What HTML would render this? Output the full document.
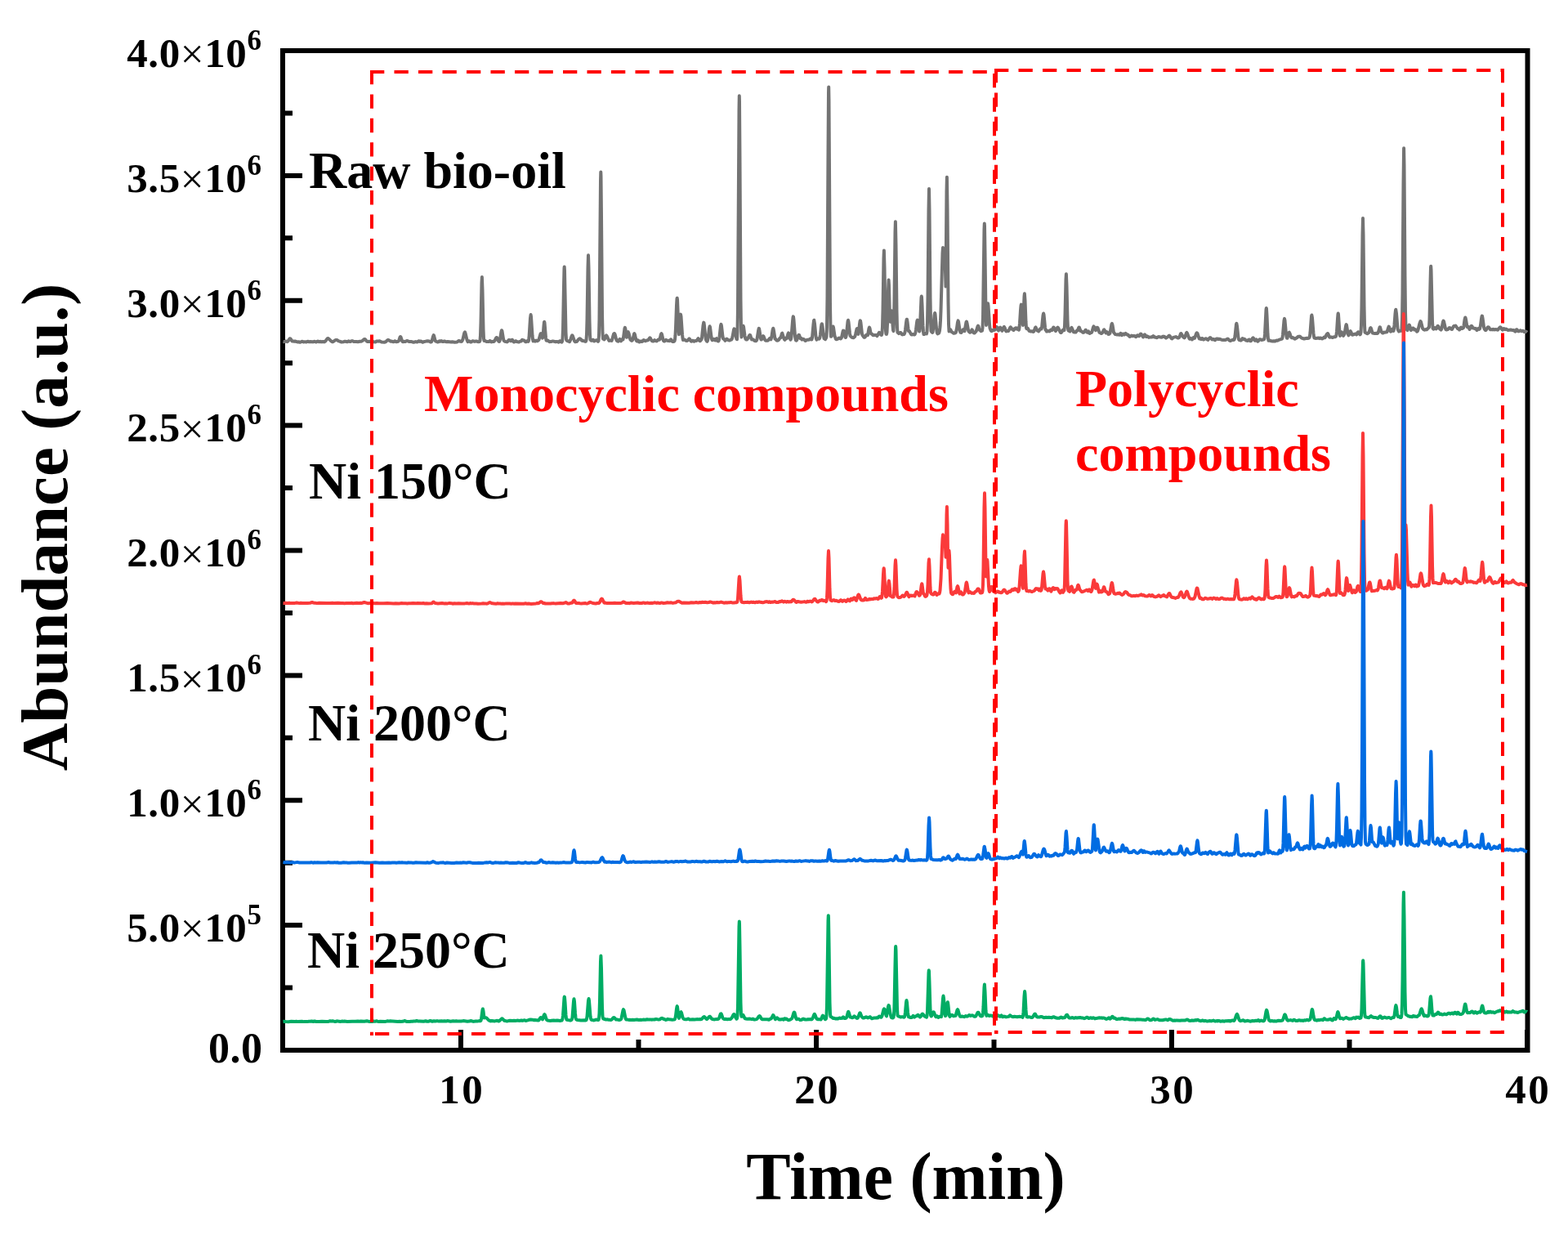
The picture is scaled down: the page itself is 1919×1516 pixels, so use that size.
<!DOCTYPE html>
<html><head><meta charset="utf-8"><style>
html,body{margin:0;padding:0;background:#fff;}
svg{display:block;}
text{font-family:"Liberation Serif","Times New Roman",serif;font-weight:bold;}
</style></head><body>
<svg width="1919" height="1516" viewBox="0 0 1919 1516">
<rect x="0" y="0" width="1919" height="1516" fill="#fff"/>
<rect x="346" y="62" width="1523.5" height="1223" fill="none" stroke="#000" stroke-width="6"/>
<path d="M564.0,1285 V1260 M781.5,1285 V1272 M999.0,1285 V1260 M1216.5,1285 V1272 M1434.0,1285 V1260 M1651.5,1285 V1272 M1869.0,1285 V1260" stroke="#000" stroke-width="6" fill="none"/>
<path d="M346,1285.0 H370 M346,1208.6 H358 M346,1132.1 H370 M346,1055.7 H358 M346,979.2 H370 M346,902.8 H358 M346,826.4 H370 M346,749.9 H358 M346,673.5 H370 M346,597.1 H358 M346,520.6 H370 M346,444.2 H358 M346,367.8 H370 M346,291.3 H358 M346,214.9 H370 M346,138.4 H358 M346,62.0 H370" stroke="#000" stroke-width="6" fill="none"/>
<path d="M346.5,417.9 L348.0,418.2 L349.5,417.6 L350.0,417.6 L351.5,418.2 L352.5,417.4 L354.5,414.4 L355.0,414.2 L355.5,414.5 L357.5,417.4 L358.5,417.4 L359.5,417.7 L361.0,417.5 L364.0,418.4 L365.5,418.2 L367.0,418.8 L367.5,418.7 L369.5,417.7 L370.0,417.7 L371.5,418.4 L372.0,418.4 L373.0,418.2 L375.0,418.4 L376.5,417.7 L377.0,417.8 L378.0,418.3 L380.0,418.1 L382.0,418.2 L383.0,418.4 L384.5,417.8 L385.0,417.8 L387.0,418.5 L389.0,417.4 L390.5,418.3 L392.0,417.8 L393.0,418.4 L395.0,418.0 L397.0,418.4 L397.5,418.1 L398.5,417.2 L400.5,414.4 L401.0,414.0 L401.5,414.0 L402.5,414.6 L405.0,417.2 L406.0,417.9 L407.0,418.3 L408.0,417.9 L410.5,416.2 L411.5,415.9 L413.0,416.3 L414.5,417.4 L415.5,417.6 L418.0,418.5 L420.5,418.3 L421.5,417.8 L422.5,417.7 L425.0,418.3 L426.5,417.3 L428.5,418.1 L430.0,417.4 L431.0,417.1 L432.0,417.4 L433.0,418.0 L436.0,417.9 L438.0,418.2 L440.5,417.7 L442.0,417.8 L443.5,417.0 L445.5,415.2 L446.0,415.0 L446.5,415.0 L447.0,415.3 L449.0,417.7 L450.0,418.1 L451.5,417.8 L454.0,418.0 L455.0,417.4 L455.5,417.3 L457.0,418.2 L459.5,418.4 L461.5,417.4 L462.5,417.4 L463.5,417.7 L464.5,417.3 L465.0,417.4 L467.0,418.5 L470.5,418.7 L472.0,418.3 L474.0,416.3 L475.0,415.9 L476.5,416.6 L478.0,417.7 L479.5,417.6 L481.5,418.3 L483.0,417.3 L483.5,417.3 L484.5,418.1 L485.0,418.2 L487.5,417.7 L488.0,417.0 L488.5,415.7 L489.5,412.7 L490.0,412.0 L490.5,412.5 L492.0,417.0 L492.5,417.9 L493.0,418.3 L494.5,417.8 L496.0,418.1 L498.0,417.0 L498.5,417.0 L500.5,417.9 L503.0,417.9 L506.0,418.7 L507.0,418.7 L508.5,418.1 L510.5,418.5 L512.5,417.3 L513.0,417.4 L514.0,417.9 L515.0,417.6 L515.5,417.6 L517.0,418.7 L517.5,418.8 L519.0,418.0 L520.0,417.9 L523.0,417.3 L525.5,417.6 L527.0,418.6 L527.5,418.6 L528.0,418.3 L528.5,417.4 L530.0,411.7 L530.7,410.1 L531.0,410.4 L532.5,416.2 L533.0,417.5 L534.0,417.7 L535.5,418.5 L536.5,418.3 L538.0,417.2 L539.0,417.7 L540.0,417.1 L542.0,418.1 L542.5,418.1 L543.5,417.4 L544.0,417.5 L546.5,418.3 L548.0,418.0 L552.0,418.5 L553.5,418.2 L556.5,418.7 L559.5,418.4 L561.5,417.0 L562.0,417.0 L563.0,417.7 L564.0,417.9 L565.0,417.8 L565.5,417.3 L566.5,414.9 L568.0,408.4 L568.5,407.0 L569.0,406.4 L569.5,407.5 L571.5,415.9 L572.5,418.1 L574.0,417.2 L576.0,418.6 L576.5,418.6 L578.5,417.2 L581.0,417.9 L582.0,417.5 L583.0,417.5 L585.0,418.2 L587.0,417.9 L587.5,416.5 L588.0,410.1 L588.5,394.8 L589.5,346.4 L589.9,339.0 L590.5,355.1 L591.5,402.9 L592.0,414.1 L592.5,416.9 L594.0,417.1 L595.5,418.1 L596.0,418.1 L598.5,417.9 L599.5,417.0 L600.0,417.1 L601.0,418.3 L601.5,418.4 L603.0,417.8 L604.5,418.0 L605.5,416.9 L607.0,413.7 L607.6,412.9 L608.0,412.9 L608.5,413.6 L610.0,417.1 L610.5,417.8 L611.0,418.0 L611.5,417.1 L612.0,415.3 L613.5,405.6 L614.0,404.2 L614.5,405.2 L616.0,414.5 L616.5,416.4 L617.0,417.2 L618.0,417.9 L620.5,418.4 L621.0,418.2 L622.5,416.1 L623.0,415.9 L623.5,415.9 L625.0,417.1 L625.5,417.3 L626.5,415.7 L627.0,415.8 L628.5,418.2 L629.0,418.5 L631.0,417.2 L631.5,417.3 L632.5,418.0 L635.0,418.6 L636.0,417.9 L637.5,417.6 L639.0,415.8 L639.5,415.8 L640.5,416.6 L641.0,416.4 L641.5,416.5 L643.0,418.1 L643.5,418.3 L644.0,418.2 L645.0,417.3 L645.5,417.2 L646.5,417.9 L647.0,416.7 L647.5,413.1 L649.0,389.5 L649.6,385.1 L650.0,387.3 L651.5,410.3 L652.0,415.0 L652.5,417.4 L653.5,416.5 L654.0,416.5 L655.0,417.6 L656.0,416.7 L656.5,416.6 L657.5,417.3 L659.0,416.3 L659.5,415.6 L661.5,408.5 L662.0,408.0 L662.5,408.7 L663.0,410.0 L664.0,413.6 L664.5,411.9 L665.5,398.8 L666.0,394.2 L666.2,393.8 L666.5,394.8 L668.0,413.5 L668.5,416.5 L669.0,416.8 L670.0,416.4 L670.5,416.6 L672.5,418.2 L673.0,418.2 L674.0,417.9 L675.0,417.9 L676.5,417.4 L680.0,418.3 L681.5,417.9 L683.5,418.7 L684.0,418.4 L685.0,417.2 L685.5,417.3 L686.5,418.3 L687.5,418.6 L688.0,417.8 L688.5,414.0 L689.0,403.1 L690.0,350.3 L690.5,328.5 L690.7,326.4 L691.0,331.7 L692.5,406.3 L693.0,415.3 L693.5,416.4 L694.5,417.2 L695.5,417.5 L697.0,418.2 L698.0,416.3 L699.5,411.5 L700.2,410.3 L700.5,410.4 L701.0,411.3 L703.0,417.1 L703.5,417.9 L704.0,418.2 L705.5,418.1 L706.0,417.9 L708.0,415.2 L709.0,414.4 L709.5,414.3 L710.5,414.8 L712.0,416.7 L712.5,416.9 L713.5,416.8 L716.5,417.9 L717.0,417.8 L717.5,416.0 L718.0,409.2 L718.5,391.5 L719.5,327.2 L720.0,312.3 L720.5,327.7 L721.5,392.1 L722.0,409.5 L722.5,415.6 L723.5,416.7 L724.0,416.8 L725.0,416.4 L725.5,415.7 L726.0,415.8 L727.0,417.4 L727.5,417.4 L728.5,416.8 L730.0,416.2 L730.5,416.3 L732.0,417.9 L732.5,417.0 L733.0,410.6 L733.5,390.0 L735.0,221.5 L735.3,210.6 L735.5,215.7 L736.0,264.8 L737.0,383.5 L737.5,407.7 L738.0,414.6 L739.0,415.0 L739.5,415.4 L740.0,414.8 L741.5,411.0 L742.0,410.3 L743.0,411.6 L744.5,415.2 L745.5,416.9 L746.0,416.8 L747.0,416.4 L748.5,416.9 L749.5,414.4 L751.0,408.9 L751.5,408.1 L752.0,408.0 L752.5,408.8 L753.0,410.4 L754.0,414.6 L754.5,416.1 L755.0,416.9 L755.5,417.3 L756.5,417.7 L757.0,417.4 L758.0,415.3 L758.5,414.8 L759.0,415.4 L759.5,416.7 L760.0,417.3 L761.5,415.1 L762.0,415.1 L762.5,415.4 L763.0,412.9 L764.5,401.8 L764.9,400.9 L765.5,402.9 L766.5,410.8 L767.0,412.7 L768.0,408.2 L768.5,406.6 L768.8,406.2 L769.5,407.8 L771.0,414.1 L771.5,415.5 L772.0,416.2 L773.0,416.9 L773.5,416.8 L774.0,416.2 L774.5,414.9 L776.0,408.7 L776.4,408.1 L777.0,409.3 L778.0,414.3 L778.5,416.0 L779.0,417.0 L779.5,417.4 L780.5,416.3 L781.0,416.4 L782.0,418.2 L782.5,418.5 L783.5,417.6 L784.0,417.5 L785.5,418.0 L786.0,417.9 L787.5,416.1 L788.0,416.0 L789.5,417.1 L790.0,417.2 L791.0,416.6 L792.0,416.6 L793.0,416.4 L795.0,413.6 L795.4,413.4 L796.0,413.9 L797.5,416.8 L798.0,417.2 L799.5,417.5 L801.0,416.1 L801.5,416.3 L802.5,417.1 L803.5,417.4 L804.0,417.3 L805.5,415.6 L806.0,415.4 L807.0,415.7 L807.5,414.9 L809.0,408.8 L809.5,408.1 L810.0,409.0 L811.5,415.7 L812.0,416.8 L812.5,417.4 L813.0,417.6 L813.5,417.4 L815.0,415.8 L815.5,416.0 L816.5,416.8 L817.0,416.9 L818.5,416.7 L819.5,417.2 L820.0,416.8 L821.0,415.3 L821.5,415.6 L822.5,417.5 L823.0,417.9 L824.5,418.0 L825.0,417.8 L825.5,417.2 L826.0,415.2 L826.5,410.3 L827.0,401.1 L828.0,373.8 L828.5,365.3 L828.7,364.7 L829.0,366.5 L830.5,403.3 L831.0,409.2 L832.5,387.4 L833.0,384.6 L833.5,387.1 L835.0,409.2 L835.5,413.8 L836.0,416.0 L836.5,415.9 L837.0,415.5 L837.5,415.4 L839.5,416.7 L841.0,417.0 L842.0,416.2 L843.0,414.8 L843.5,414.4 L844.0,414.7 L845.5,417.4 L846.0,417.8 L847.5,416.7 L848.0,416.7 L849.5,417.8 L851.0,416.9 L852.5,416.9 L853.0,416.6 L854.0,414.7 L854.5,414.1 L855.0,414.5 L856.0,416.7 L856.5,417.3 L857.0,417.1 L858.5,415.3 L859.0,413.3 L860.5,398.4 L861.2,394.6 L861.5,395.0 L862.0,398.6 L863.5,413.4 L864.0,415.8 L865.0,417.5 L865.5,417.8 L866.0,416.7 L866.5,414.4 L868.0,401.7 L868.6,399.3 L869.0,400.1 L870.5,411.9 L871.0,414.6 L871.5,416.1 L872.0,416.3 L873.0,415.0 L873.5,414.8 L874.0,415.0 L875.5,416.5 L876.5,414.5 L877.0,414.2 L878.5,417.3 L879.0,417.5 L879.5,417.0 L880.0,415.5 L880.5,412.5 L882.0,398.4 L882.5,396.9 L883.0,398.7 L884.5,411.9 L885.0,414.4 L885.5,414.3 L886.0,414.7 L887.5,416.8 L888.0,416.4 L889.0,414.9 L889.5,414.6 L890.0,414.9 L891.5,416.2 L893.0,416.5 L894.0,415.9 L895.0,415.6 L895.5,415.0 L896.0,414.0 L896.5,412.0 L898.0,403.5 L898.5,402.3 L899.0,402.9 L899.5,404.8 L900.5,410.6 L901.5,415.0 L902.0,415.2 L902.5,406.1 L903.0,376.8 L904.5,133.7 L904.8,117.3 L905.0,124.6 L905.5,195.6 L906.5,366.4 L907.0,401.4 L907.5,412.6 L909.0,401.2 L909.6,398.8 L910.0,399.6 L911.5,410.8 L912.0,413.3 L912.5,414.8 L913.5,415.5 L914.0,415.6 L914.5,415.3 L915.5,413.7 L917.0,410.6 L917.7,409.8 L918.0,410.0 L918.5,411.0 L919.5,414.3 L920.0,415.4 L921.0,415.1 L921.5,415.3 L923.5,417.1 L925.0,417.2 L925.5,417.1 L926.0,416.4 L926.5,414.9 L928.0,405.2 L928.5,402.5 L928.8,401.8 L929.0,402.0 L929.5,404.2 L930.5,411.3 L931.0,414.1 L931.5,415.5 L932.0,415.5 L933.5,411.9 L934.0,411.2 L934.5,411.5 L936.0,415.4 L936.5,416.3 L937.0,416.7 L939.0,416.8 L940.0,416.6 L942.0,414.1 L942.5,414.2 L943.5,415.3 L944.5,411.3 L945.5,404.3 L946.2,401.8 L946.5,402.2 L947.0,404.8 L948.5,414.6 L949.0,414.5 L950.5,416.5 L951.0,416.7 L952.0,416.6 L953.0,415.9 L954.5,413.6 L955.0,413.1 L955.5,413.2 L957.0,407.8 L957.3,407.6 L959.0,413.2 L960.0,415.3 L960.5,415.8 L961.0,415.3 L962.0,413.6 L963.0,414.0 L964.5,408.3 L965.0,407.4 L965.5,408.2 L966.5,412.8 L967.0,414.6 L967.5,415.7 L968.0,414.8 L968.5,412.1 L970.0,393.5 L970.5,388.4 L970.8,387.4 L971.0,387.6 L971.5,391.6 L973.0,411.2 L973.5,414.7 L974.0,416.5 L974.5,416.7 L975.0,416.4 L975.5,415.3 L977.0,410.5 L977.6,409.7 L978.0,409.9 L978.5,411.0 L979.5,414.2 L980.0,413.6 L980.5,413.8 L981.5,415.6 L982.5,415.0 L983.0,414.8 L983.5,414.9 L984.0,415.2 L985.5,417.0 L986.0,417.0 L987.5,415.8 L990.0,415.7 L990.5,415.5 L991.5,414.5 L992.0,414.3 L992.5,414.7 L993.0,415.4 L993.5,415.4 L994.0,413.2 L995.5,396.7 L996.0,392.4 L996.3,391.7 L997.0,396.0 L998.5,411.9 L999.0,414.5 L999.5,415.7 L1001.0,414.2 L1001.5,414.2 L1002.5,414.7 L1003.0,414.3 L1003.5,412.5 L1004.0,409.3 L1005.0,400.1 L1005.5,396.9 L1005.8,396.3 L1006.0,396.3 L1006.5,398.8 L1007.5,407.9 L1008.5,414.1 L1010.0,415.2 L1011.0,413.7 L1011.5,412.0 L1012.0,399.9 L1012.5,363.5 L1013.5,186.9 L1014.0,113.9 L1014.2,106.5 L1014.5,123.2 L1016.0,373.2 L1016.5,403.1 L1017.0,411.8 L1017.5,411.8 L1019.0,401.5 L1019.6,399.5 L1020.0,400.6 L1021.5,411.1 L1023.0,414.9 L1023.5,415.2 L1024.0,415.2 L1025.5,414.6 L1026.5,413.7 L1027.0,413.5 L1028.5,414.4 L1029.0,414.4 L1029.5,413.9 L1030.0,412.9 L1031.5,405.8 L1032.0,404.5 L1032.5,404.7 L1034.5,412.7 L1035.0,413.0 L1035.5,411.6 L1036.0,408.5 L1037.5,393.6 L1038.0,391.8 L1038.5,393.7 L1040.0,407.8 L1040.5,410.6 L1041.0,411.4 L1042.5,412.8 L1044.5,413.3 L1045.5,412.4 L1046.0,412.2 L1046.5,411.1 L1047.0,409.2 L1048.5,402.7 L1049.0,402.0 L1049.5,403.5 L1050.5,408.9 L1051.0,406.2 L1052.0,396.5 L1052.5,393.1 L1052.8,392.4 L1053.0,392.5 L1053.5,395.1 L1055.0,408.5 L1055.5,410.0 L1057.5,412.8 L1058.0,412.9 L1058.5,412.6 L1060.0,410.1 L1060.5,409.6 L1061.0,409.7 L1061.5,410.3 L1062.0,410.1 L1063.5,401.7 L1064.0,400.5 L1064.5,401.7 L1065.5,407.1 L1066.0,408.4 L1067.0,408.4 L1068.5,410.3 L1070.0,409.9 L1072.0,409.9 L1073.5,411.1 L1076.0,406.8 L1076.5,407.1 L1078.0,409.5 L1078.5,409.9 L1079.0,409.9 L1079.5,407.8 L1080.0,399.7 L1080.5,379.8 L1081.5,316.3 L1081.9,306.6 L1082.5,327.5 L1083.5,389.8 L1084.0,404.8 L1084.5,408.8 L1085.0,408.9 L1085.5,406.5 L1086.0,396.6 L1087.0,356.0 L1087.6,342.6 L1088.0,349.1 L1089.0,390.4 L1089.5,393.8 L1090.5,380.9 L1090.8,380.2 L1091.0,380.7 L1091.5,384.9 L1093.0,403.8 L1093.5,405.2 L1094.0,394.4 L1094.5,368.1 L1095.5,284.0 L1095.9,271.3 L1096.5,298.8 L1097.5,381.1 L1098.0,400.8 L1098.5,406.8 L1100.0,408.1 L1101.5,407.0 L1102.0,406.9 L1102.5,407.1 L1104.0,409.3 L1104.5,409.4 L1105.5,408.9 L1106.5,409.0 L1107.0,408.1 L1107.5,406.5 L1108.0,403.6 L1109.0,394.9 L1109.5,391.5 L1109.8,390.7 L1110.0,390.8 L1110.5,393.6 L1111.5,402.3 L1112.0,405.1 L1112.5,404.8 L1113.0,405.2 L1114.5,408.2 L1115.5,409.4 L1116.0,409.5 L1117.0,408.9 L1118.5,409.5 L1119.0,409.5 L1119.5,409.2 L1120.0,408.3 L1120.5,406.4 L1121.0,403.2 L1122.0,394.9 L1122.5,392.1 L1122.8,391.7 L1123.5,394.6 L1125.0,405.6 L1125.5,405.2 L1126.0,398.9 L1127.5,364.3 L1127.8,362.5 L1128.0,363.6 L1128.5,372.9 L1129.5,398.7 L1130.0,406.0 L1130.5,409.1 L1131.0,409.1 L1132.5,407.9 L1133.0,407.8 L1134.0,408.3 L1134.5,405.8 L1135.0,395.0 L1135.5,365.8 L1136.5,257.0 L1137.0,231.1 L1137.5,256.3 L1138.5,364.1 L1139.0,393.4 L1139.5,404.8 L1140.0,405.9 L1141.0,407.0 L1141.5,406.6 L1142.0,403.1 L1143.5,385.9 L1144.1,383.0 L1144.5,384.2 L1146.0,401.6 L1146.5,405.6 L1147.0,407.7 L1147.5,408.4 L1148.5,408.0 L1149.0,407.6 L1149.5,406.5 L1150.0,404.3 L1150.5,400.1 L1151.0,392.4 L1151.5,380.2 L1153.5,309.7 L1154.0,302.9 L1154.5,306.2 L1155.0,318.3 L1155.5,314.0 L1156.0,306.5 L1156.5,313.5 L1157.5,350.6 L1158.5,234.5 L1158.9,216.7 L1159.5,255.5 L1160.5,369.8 L1161.0,396.5 L1161.5,405.5 L1162.0,404.9 L1162.5,403.6 L1163.0,403.2 L1163.5,403.7 L1164.5,406.0 L1166.0,406.9 L1167.0,407.7 L1167.5,407.8 L1169.5,407.3 L1170.0,406.4 L1171.0,401.5 L1172.0,394.3 L1172.6,392.4 L1173.0,393.4 L1174.5,403.5 L1175.0,405.7 L1175.5,406.8 L1176.0,407.0 L1176.5,407.0 L1178.5,403.4 L1179.0,403.2 L1179.5,403.6 L1180.5,405.2 L1182.5,394.2 L1182.9,393.5 L1183.5,395.3 L1185.0,403.8 L1185.5,405.4 L1186.5,406.4 L1187.0,406.7 L1187.5,406.7 L1188.0,406.3 L1189.5,403.4 L1190.0,403.8 L1191.0,406.5 L1191.5,407.3 L1192.5,407.5 L1193.0,407.2 L1194.5,405.5 L1195.0,404.5 L1196.5,399.3 L1197.0,398.6 L1197.5,399.2 L1198.5,403.1 L1199.0,403.9 L1199.5,404.1 L1200.5,405.2 L1201.5,404.7 L1202.0,404.7 L1202.5,401.3 L1203.0,388.4 L1204.5,280.8 L1204.8,273.6 L1205.0,276.8 L1205.5,308.2 L1206.5,384.3 L1207.0,397.9 L1208.5,374.2 L1209.0,371.2 L1209.5,373.8 L1211.0,396.6 L1211.5,401.6 L1212.5,404.1 L1213.0,404.8 L1213.5,405.2 L1214.0,405.0 L1215.5,403.6 L1216.0,403.4 L1217.0,404.0 L1217.5,403.6 L1219.0,400.2 L1219.5,399.8 L1220.0,400.2 L1221.5,404.0 L1222.0,404.4 L1223.5,400.9 L1224.0,400.6 L1224.5,401.0 L1226.0,404.2 L1226.5,404.8 L1227.0,404.0 L1228.5,400.2 L1228.9,399.9 L1229.5,400.8 L1231.0,404.8 L1231.5,405.4 L1233.0,404.9 L1234.0,405.1 L1234.5,404.5 L1236.5,400.3 L1236.8,400.2 L1237.0,400.5 L1238.0,402.5 L1238.5,402.8 L1239.0,402.4 L1239.5,402.6 L1240.5,404.0 L1242.5,401.6 L1243.0,401.2 L1243.5,401.3 L1244.5,402.6 L1245.0,401.8 L1245.5,401.5 L1246.0,401.8 L1247.0,403.7 L1247.5,400.8 L1248.0,395.5 L1249.0,379.7 L1249.5,373.9 L1249.8,372.6 L1250.0,372.8 L1250.5,377.5 L1251.5,393.6 L1252.0,398.0 L1253.5,363.0 L1253.9,359.3 L1254.5,367.3 L1255.5,393.5 L1256.0,401.1 L1256.5,402.2 L1257.0,401.4 L1257.5,401.4 L1258.0,402.0 L1259.5,404.9 L1261.5,405.5 L1263.0,405.2 L1264.5,406.0 L1265.0,405.9 L1265.5,405.2 L1267.0,400.8 L1267.5,400.3 L1269.5,404.5 L1270.0,404.3 L1271.0,405.4 L1271.5,404.9 L1273.0,402.5 L1273.5,402.0 L1274.0,402.0 L1274.5,402.4 L1275.0,401.2 L1276.5,386.0 L1277.1,383.5 L1277.5,384.8 L1279.0,400.3 L1279.5,403.8 L1280.0,403.3 L1281.0,405.6 L1281.5,405.6 L1282.5,405.0 L1283.0,405.0 L1284.5,405.4 L1286.0,403.6 L1286.5,403.4 L1287.0,403.6 L1287.5,404.1 L1289.3,400.4 L1289.5,400.4 L1290.0,401.2 L1291.5,404.5 L1292.0,405.0 L1293.0,403.5 L1294.0,401.0 L1294.5,400.6 L1295.0,401.0 L1295.5,401.9 L1297.5,406.2 L1298.0,407.0 L1298.5,407.1 L1299.0,406.7 L1301.0,403.6 L1301.5,403.4 L1302.0,403.6 L1302.5,404.1 L1303.0,398.8 L1303.5,385.3 L1304.5,341.9 L1304.9,335.3 L1305.5,349.7 L1306.5,391.9 L1307.0,401.8 L1307.5,404.5 L1309.5,405.6 L1311.0,401.4 L1311.5,400.8 L1314.0,406.3 L1314.5,406.4 L1315.0,406.3 L1316.5,406.6 L1318.0,404.4 L1318.5,404.2 L1319.0,404.3 L1320.0,401.3 L1320.5,400.5 L1321.0,400.8 L1322.5,405.1 L1323.5,405.2 L1325.0,406.7 L1325.5,406.9 L1326.5,406.7 L1327.0,406.3 L1328.5,403.7 L1328.9,403.8 L1329.0,404.3 L1330.5,406.7 L1331.0,406.7 L1331.5,405.5 L1332.0,405.3 L1333.0,407.6 L1333.5,408.0 L1334.5,407.3 L1335.5,407.1 L1336.0,406.7 L1336.5,405.8 L1338.0,400.4 L1338.5,399.4 L1338.8,399.6 L1341.0,404.1 L1342.0,401.4 L1342.5,400.8 L1343.0,400.7 L1343.5,401.1 L1345.5,406.9 L1346.5,407.2 L1347.5,408.0 L1348.0,408.0 L1349.0,407.4 L1349.5,406.7 L1351.0,403.4 L1351.3,403.3 L1352.0,404.3 L1353.5,407.5 L1354.5,406.1 L1355.0,406.3 L1356.5,408.9 L1357.0,409.0 L1357.5,408.8 L1358.5,407.6 L1360.5,396.4 L1360.9,395.9 L1361.5,397.6 L1363.0,406.8 L1365.0,409.1 L1366.5,409.4 L1368.0,409.2 L1370.0,409.8 L1370.5,409.5 L1371.5,407.8 L1372.0,408.1 L1373.0,410.2 L1374.5,408.5 L1375.0,408.5 L1376.0,409.5 L1377.0,408.2 L1377.5,407.9 L1377.9,408.2 L1378.0,408.5 L1380.0,409.7 L1380.5,409.6 L1382.5,411.9 L1383.0,412.0 L1384.5,410.8 L1385.0,410.6 L1386.0,411.3 L1387.0,410.9 L1388.0,410.9 L1389.0,411.4 L1390.0,412.2 L1390.5,412.1 L1392.0,410.2 L1392.5,410.2 L1393.5,411.1 L1394.0,411.3 L1396.0,408.5 L1396.5,408.7 L1399.0,412.5 L1399.5,411.9 L1400.5,409.8 L1401.0,409.4 L1401.5,409.8 L1402.5,411.9 L1403.0,412.1 L1404.0,411.3 L1404.5,411.5 L1406.0,412.9 L1408.5,412.4 L1409.5,412.6 L1410.0,412.4 L1411.0,411.3 L1411.5,411.1 L1412.0,411.4 L1413.0,412.6 L1414.5,412.8 L1415.5,413.2 L1416.0,413.2 L1417.0,412.4 L1418.0,412.0 L1418.5,412.0 L1420.0,412.6 L1421.0,412.5 L1422.0,412.8 L1423.5,411.6 L1424.5,412.0 L1425.0,411.8 L1425.5,412.1 L1426.5,413.3 L1427.0,413.6 L1428.0,412.9 L1429.0,412.5 L1430.5,410.8 L1431.0,410.6 L1431.5,410.9 L1433.5,413.9 L1434.5,414.4 L1436.0,412.9 L1439.0,412.1 L1439.5,412.3 L1441.5,413.5 L1442.5,413.4 L1443.0,413.1 L1443.5,412.4 L1445.0,408.3 L1445.5,408.0 L1448.0,412.3 L1449.5,413.4 L1450.0,412.8 L1450.5,411.7 L1451.5,408.6 L1452.0,407.3 L1452.4,406.9 L1453.0,407.8 L1455.5,414.4 L1456.0,414.7 L1457.0,414.1 L1457.5,414.1 L1459.0,415.5 L1460.5,413.1 L1461.0,412.9 L1462.0,413.9 L1464.0,408.3 L1464.5,407.4 L1464.9,407.3 L1465.5,407.9 L1467.5,414.0 L1468.0,414.5 L1468.5,414.0 L1469.0,414.0 L1470.0,415.1 L1471.0,414.0 L1471.5,414.0 L1472.5,415.4 L1473.0,415.6 L1474.5,414.6 L1476.0,414.3 L1476.5,414.6 L1477.5,415.5 L1478.5,415.9 L1480.0,413.9 L1481.0,413.1 L1481.5,413.2 L1482.0,413.7 L1483.5,415.5 L1485.0,414.9 L1485.5,415.0 L1486.5,416.0 L1487.0,416.2 L1488.5,414.8 L1489.0,414.5 L1489.5,414.5 L1491.0,415.0 L1491.5,414.7 L1492.0,414.7 L1493.5,414.9 L1495.0,415.7 L1497.0,416.1 L1499.0,416.1 L1500.5,415.7 L1501.5,415.0 L1502.5,414.6 L1503.0,414.7 L1504.5,416.6 L1505.5,417.0 L1506.0,417.0 L1508.5,415.8 L1510.0,416.0 L1510.5,415.6 L1511.0,414.1 L1511.5,411.1 L1513.0,396.8 L1513.4,395.8 L1514.0,399.1 L1515.5,412.9 L1516.0,415.2 L1516.5,416.0 L1517.5,416.1 L1518.5,416.6 L1519.0,416.5 L1520.5,414.1 L1521.0,414.2 L1521.5,415.1 L1522.0,415.2 L1523.0,414.8 L1523.5,415.0 L1525.0,416.6 L1527.0,416.9 L1528.5,415.4 L1529.0,415.5 L1530.0,417.2 L1530.5,417.3 L1531.0,417.1 L1531.5,416.5 L1533.0,413.7 L1533.5,413.3 L1534.0,413.6 L1535.5,416.4 L1536.0,416.8 L1537.0,415.6 L1537.5,415.3 L1538.0,415.8 L1539.0,417.6 L1539.5,417.8 L1541.5,415.4 L1542.0,415.2 L1542.5,415.2 L1544.0,416.0 L1547.0,415.3 L1547.5,414.1 L1548.0,408.9 L1549.5,378.9 L1549.8,377.0 L1550.0,377.8 L1550.5,385.9 L1551.5,408.5 L1552.0,414.5 L1552.5,416.8 L1553.5,416.4 L1554.0,416.5 L1555.5,417.3 L1556.5,417.3 L1557.5,417.6 L1559.0,417.2 L1560.0,417.5 L1560.5,417.5 L1562.0,416.6 L1563.5,416.7 L1565.0,415.9 L1569.0,414.7 L1569.5,413.1 L1570.0,409.4 L1571.5,392.1 L1572.0,389.9 L1572.5,392.0 L1574.0,408.8 L1574.5,412.2 L1575.0,413.7 L1575.5,413.8 L1577.0,408.2 L1577.5,406.8 L1577.8,406.6 L1578.5,407.9 L1579.5,411.1 L1580.5,413.1 L1581.0,413.4 L1582.0,413.0 L1582.5,413.1 L1584.5,414.6 L1585.0,414.7 L1587.5,413.0 L1588.5,412.0 L1589.0,411.7 L1589.8,411.8 L1590.5,411.6 L1591.0,411.7 L1593.0,413.6 L1596.0,414.5 L1599.5,413.7 L1601.0,414.0 L1601.5,413.8 L1602.5,412.9 L1603.0,411.3 L1603.5,407.1 L1605.0,387.1 L1605.4,385.5 L1606.0,388.8 L1607.5,407.9 L1608.0,411.7 L1608.5,413.6 L1610.5,414.0 L1611.5,413.7 L1612.5,413.8 L1613.5,413.4 L1614.0,413.4 L1615.0,414.1 L1616.0,413.5 L1616.5,413.5 L1617.5,414.3 L1618.0,414.5 L1618.5,414.4 L1619.5,413.7 L1620.5,412.5 L1621.0,412.6 L1621.5,413.2 L1622.0,412.7 L1623.5,409.4 L1624.0,408.7 L1624.7,408.1 L1625.0,408.0 L1625.5,408.7 L1627.0,412.4 L1627.5,412.7 L1629.0,412.4 L1630.5,413.0 L1632.5,412.3 L1634.5,412.2 L1635.0,411.5 L1635.5,409.7 L1636.0,405.7 L1637.0,390.1 L1637.5,384.2 L1637.7,383.5 L1638.0,384.8 L1639.5,407.1 L1640.0,411.0 L1641.5,407.1 L1642.0,406.3 L1642.5,406.8 L1644.0,410.9 L1645.5,408.6 L1647.0,399.3 L1647.6,397.1 L1648.0,397.8 L1649.5,407.3 L1650.0,409.3 L1650.5,410.3 L1651.0,409.5 L1652.0,406.6 L1652.5,405.5 L1652.8,405.2 L1653.5,406.3 L1654.5,409.2 L1655.0,409.8 L1656.5,409.4 L1657.0,409.0 L1658.5,408.6 L1659.0,408.6 L1659.5,408.9 L1660.0,409.5 L1660.5,409.1 L1661.5,406.8 L1662.0,406.3 L1662.5,406.3 L1664.5,409.4 L1665.0,408.8 L1665.5,406.6 L1666.0,397.6 L1666.5,374.2 L1667.5,287.5 L1668.0,267.1 L1668.5,287.5 L1669.5,374.1 L1670.0,397.8 L1670.5,406.6 L1671.0,407.0 L1672.0,407.3 L1673.0,408.1 L1673.5,408.2 L1674.5,407.3 L1675.0,407.2 L1675.5,406.6 L1677.0,401.6 L1677.5,401.0 L1678.0,401.8 L1679.0,405.4 L1680.0,407.6 L1682.5,408.1 L1684.5,407.8 L1685.5,408.1 L1686.0,407.8 L1686.5,407.1 L1687.0,406.0 L1688.6,400.2 L1689.0,400.4 L1690.5,405.7 L1692.0,407.6 L1692.5,407.6 L1693.5,406.6 L1694.5,406.8 L1696.0,406.4 L1697.5,406.3 L1699.0,401.2 L1699.7,399.6 L1700.0,399.9 L1701.5,404.8 L1702.0,405.7 L1702.5,405.5 L1703.5,403.2 L1704.0,402.7 L1704.5,403.1 L1705.5,405.0 L1706.0,402.2 L1706.5,397.4 L1707.5,384.0 L1708.0,379.5 L1708.3,378.9 L1709.0,383.6 L1710.5,402.1 L1711.0,403.8 L1712.0,405.6 L1713.0,405.0 L1715.0,404.8 L1715.5,402.0 L1716.0,390.7 L1716.5,359.4 L1717.5,226.2 L1718.1,181.3 L1718.5,202.2 L1719.5,338.7 L1720.0,381.7 L1720.5,399.5 L1721.0,402.7 L1722.5,404.2 L1724.0,398.8 L1724.6,397.5 L1725.0,397.8 L1726.5,403.0 L1727.0,404.0 L1728.0,402.3 L1728.5,401.7 L1729.0,401.4 L1729.5,401.5 L1730.0,402.0 L1731.0,403.6 L1731.5,403.6 L1732.0,403.1 L1732.5,403.3 L1734.0,405.7 L1734.5,405.6 L1735.0,404.9 L1735.5,403.5 L1737.5,395.5 L1738.5,393.0 L1739.0,393.8 L1741.0,401.7 L1742.5,403.4 L1743.5,403.7 L1745.0,403.0 L1745.5,403.1 L1746.0,403.4 L1746.5,403.1 L1748.0,401.2 L1748.5,401.1 L1749.0,400.3 L1749.5,391.0 L1750.5,346.1 L1751.0,327.5 L1751.2,325.7 L1751.5,330.1 L1753.0,393.8 L1753.5,401.5 L1754.0,402.4 L1754.5,402.7 L1755.5,401.1 L1756.0,401.0 L1756.5,401.3 L1757.5,402.5 L1758.0,402.1 L1759.0,399.7 L1759.5,398.9 L1759.8,398.8 L1760.5,399.6 L1761.5,402.0 L1762.0,402.1 L1763.0,403.3 L1763.5,403.6 L1764.0,403.0 L1764.5,401.5 L1766.0,393.7 L1766.5,392.5 L1767.0,393.3 L1769.0,402.0 L1769.5,403.1 L1770.0,403.5 L1772.0,403.0 L1773.5,401.2 L1774.0,401.0 L1774.5,401.1 L1776.5,402.9 L1777.0,403.0 L1779.0,399.2 L1779.5,398.8 L1780.5,399.1 L1781.0,398.6 L1781.5,398.5 L1783.5,401.5 L1784.0,402.0 L1784.5,402.0 L1785.0,402.2 L1786.0,403.5 L1786.5,403.2 L1787.5,401.0 L1788.0,400.7 L1789.0,402.0 L1789.5,402.0 L1791.0,401.0 L1791.5,398.6 L1792.5,391.2 L1793.2,388.5 L1793.5,388.6 L1794.0,390.8 L1795.5,400.0 L1796.0,400.3 L1796.5,399.7 L1797.0,399.9 L1798.5,403.0 L1800.5,399.0 L1801.0,398.7 L1801.5,399.3 L1802.5,401.2 L1803.0,401.6 L1804.0,401.5 L1805.0,402.3 L1806.0,401.9 L1807.5,404.0 L1808.0,403.6 L1809.0,402.0 L1809.5,401.8 L1810.5,402.8 L1811.0,402.4 L1812.0,398.0 L1813.0,390.1 L1813.5,387.2 L1813.8,386.5 L1814.0,386.7 L1814.5,389.1 L1816.0,400.2 L1816.5,402.0 L1817.0,403.0 L1818.0,404.1 L1818.5,404.0 L1819.0,403.4 L1820.5,400.7 L1821.0,400.2 L1821.5,400.2 L1822.0,400.5 L1824.0,403.3 L1825.0,403.1 L1826.5,403.4 L1827.5,402.7 L1829.0,403.5 L1830.0,403.1 L1832.0,403.3 L1833.0,403.7 L1835.0,401.2 L1836.0,400.3 L1836.5,400.4 L1837.0,400.9 L1838.5,403.5 L1839.0,403.7 L1840.0,402.1 L1840.5,402.0 L1841.5,403.0 L1842.0,403.2 L1843.0,402.5 L1843.5,402.6 L1845.0,403.8 L1845.5,403.9 L1849.0,403.4 L1850.5,404.0 L1852.5,403.9 L1853.0,404.2 L1854.0,405.4 L1854.5,405.6 L1855.0,405.1 L1856.0,403.3 L1856.5,403.2 L1858.0,405.3 L1858.5,405.4 L1859.0,405.3 L1860.5,404.3 L1861.0,404.3 L1862.5,405.3 L1863.5,404.8 L1864.0,404.8 L1864.5,405.0 L1865.5,406.1 L1866.0,406.1 L1867.5,405.5 L1869.0,406.8" fill="none" stroke="#737373" stroke-width="4" stroke-linejoin="round" stroke-linecap="butt"/>
<path d="M346.5,737.9 L348.0,738.0 L349.5,737.8 L352.0,738.0 L354.0,737.7 L355.5,738.1 L358.5,737.9 L360.0,738.1 L363.0,737.5 L366.5,738.1 L368.0,737.8 L370.0,738.1 L371.5,737.9 L373.0,738.1 L375.5,737.9 L376.5,738.0 L379.5,737.8 L381.0,737.2 L382.0,737.0 L384.0,737.7 L385.5,737.7 L388.0,738.1 L390.5,737.7 L399.5,738.1 L402.0,738.0 L404.0,738.1 L407.0,737.7 L409.0,738.1 L413.5,737.8 L417.5,738.0 L419.5,737.9 L421.5,738.2 L424.0,737.9 L425.5,738.1 L429.0,738.1 L430.0,737.8 L432.0,738.3 L436.5,737.8 L439.5,738.0 L441.0,737.8 L443.0,737.9 L445.5,737.0 L446.5,737.1 L450.0,738.2 L455.0,737.7 L458.5,738.2 L461.0,738.0 L464.0,738.2 L468.0,738.2 L469.5,738.3 L474.0,738.1 L482.0,738.5 L484.0,738.3 L488.5,738.4 L491.5,738.1 L493.5,738.3 L496.5,738.3 L498.5,738.6 L500.0,738.3 L502.5,738.3 L505.5,737.9 L509.5,738.3 L511.0,738.1 L516.5,738.3 L518.0,738.0 L520.0,738.5 L522.0,738.2 L524.5,738.4 L528.0,738.3 L528.5,738.2 L530.0,736.8 L530.5,736.5 L531.0,736.7 L532.5,737.9 L533.0,738.1 L536.0,738.4 L541.0,738.0 L544.0,738.4 L546.0,738.3 L547.0,738.6 L550.0,737.9 L552.5,738.2 L554.0,738.7 L556.0,738.3 L559.0,738.5 L561.0,738.2 L565.5,738.5 L569.0,738.4 L571.5,738.0 L574.0,738.6 L576.0,738.0 L577.0,738.4 L578.5,738.1 L579.5,738.4 L583.0,738.4 L585.0,738.7 L589.5,738.5 L591.5,738.2 L593.0,738.5 L594.5,738.4 L596.0,738.7 L597.0,738.4 L598.5,737.4 L599.5,737.1 L600.0,737.2 L602.0,738.3 L603.5,738.3 L604.5,738.6 L607.0,738.8 L609.0,738.2 L610.5,738.6 L612.0,738.4 L614.0,738.7 L616.0,738.6 L617.0,738.8 L619.5,738.4 L624.0,738.5 L625.5,738.7 L627.5,738.4 L629.0,738.7 L630.5,738.5 L641.0,738.8 L643.0,738.2 L645.0,738.7 L647.0,738.5 L650.0,738.9 L656.0,738.4 L657.5,738.0 L659.0,738.2 L659.5,738.0 L661.5,736.4 L662.2,736.2 L663.0,736.5 L665.0,738.2 L666.0,737.9 L667.0,738.4 L672.0,738.5 L674.0,738.4 L675.5,738.2 L676.5,738.3 L677.5,738.1 L680.0,738.6 L686.0,738.0 L689.5,738.2 L692.5,737.1 L695.0,738.4 L697.0,738.4 L699.0,737.7 L700.0,737.8 L700.5,737.4 L702.0,734.9 L702.5,734.6 L703.0,734.9 L704.5,737.4 L705.0,738.0 L708.0,737.9 L709.5,738.3 L711.5,738.4 L716.0,738.0 L717.5,738.4 L719.0,738.4 L720.0,738.0 L721.5,737.0 L722.5,736.8 L725.5,738.0 L729.0,738.5 L731.0,738.0 L732.5,738.1 L733.5,737.6 L734.0,736.9 L735.5,733.5 L736.0,732.8 L736.5,732.6 L737.0,732.9 L737.5,733.7 L738.5,736.0 L739.5,737.6 L740.0,737.7 L741.0,737.6 L743.0,738.1 L746.5,738.1 L747.5,737.9 L749.5,738.1 L752.5,737.8 L754.0,738.0 L760.0,737.9 L761.0,737.6 L762.5,736.5 L763.0,736.4 L766.0,737.9 L769.0,737.9 L770.5,738.2 L772.0,737.6 L775.5,738.0 L780.5,737.5 L782.5,738.0 L785.5,738.0 L787.5,737.4 L789.5,738.0 L792.0,737.6 L794.5,737.9 L797.5,737.7 L799.0,737.9 L801.5,737.3 L803.5,737.9 L805.0,737.5 L807.5,738.1 L809.5,737.4 L812.0,738.0 L814.5,737.8 L817.0,737.2 L819.5,737.6 L821.5,737.3 L823.5,737.9 L827.0,737.3 L829.0,735.9 L830.0,735.7 L831.0,735.8 L834.5,737.7 L835.0,737.8 L837.0,737.5 L843.5,737.8 L846.0,737.2 L849.0,737.6 L852.0,737.0 L854.5,737.6 L856.5,737.0 L858.0,737.2 L859.5,736.8 L861.5,737.1 L863.0,736.8 L865.5,737.3 L867.5,737.0 L869.3,736.4 L873.0,737.7 L874.5,737.2 L876.0,737.4 L877.5,737.0 L879.0,737.3 L880.5,737.2 L882.5,736.6 L886.0,737.7 L888.5,737.3 L890.0,737.5 L891.5,737.2 L893.0,737.3 L894.5,736.9 L896.0,737.5 L898.5,737.5 L899.5,737.3 L901.5,737.3 L902.0,736.9 L902.5,735.7 L903.0,732.3 L904.5,707.9 L904.9,705.4 L905.5,710.6 L906.5,728.5 L907.0,733.9 L907.5,736.4 L908.0,736.7 L910.5,737.2 L912.0,737.0 L913.5,737.1 L915.5,736.8 L917.0,737.3 L919.5,736.6 L921.0,737.1 L922.0,736.7 L924.0,737.3 L925.5,736.7 L926.0,736.6 L927.0,737.0 L929.0,736.3 L930.5,736.8 L933.5,737.3 L935.0,737.0 L936.5,736.2 L937.5,736.4 L938.5,736.0 L940.5,736.9 L941.5,736.2 L942.0,736.3 L943.0,737.0 L943.5,737.0 L944.5,736.6 L946.3,736.7 L948.0,736.1 L948.5,736.1 L950.5,737.1 L952.0,737.1 L954.0,736.1 L955.5,736.2 L956.5,735.5 L957.0,735.3 L957.5,735.5 L959.0,736.6 L960.0,735.9 L960.5,735.8 L962.5,736.7 L963.5,736.0 L964.0,735.9 L965.5,736.6 L967.0,736.0 L968.0,736.4 L968.5,736.2 L970.0,734.2 L970.5,733.8 L971.0,733.7 L972.0,734.3 L974.0,736.6 L974.5,737.0 L976.0,736.0 L976.5,735.9 L977.5,736.3 L980.5,736.7 L982.0,736.6 L984.5,736.1 L986.5,736.8 L987.0,736.6 L988.0,735.8 L988.5,735.7 L989.5,736.3 L991.5,735.5 L993.5,736.4 L994.0,736.2 L996.5,733.0 L997.1,732.7 L997.5,732.9 L999.5,735.7 L1000.5,736.5 L1001.0,736.6 L1001.5,736.4 L1003.0,734.8 L1003.5,734.7 L1004.5,734.9 L1005.5,733.9 L1006.0,733.9 L1006.5,734.2 L1007.5,735.2 L1008.5,734.8 L1009.0,734.9 L1010.0,735.3 L1011.0,736.1 L1011.5,735.5 L1012.0,731.7 L1012.5,721.1 L1013.5,682.9 L1014.0,674.0 L1014.5,682.9 L1015.5,720.7 L1016.0,730.9 L1016.5,734.4 L1017.5,735.0 L1018.0,735.2 L1019.0,734.6 L1020.5,734.1 L1022.0,735.2 L1023.5,734.7 L1025.5,735.8 L1027.0,735.9 L1028.5,734.4 L1029.0,734.1 L1029.5,734.4 L1030.5,735.6 L1031.0,735.9 L1032.5,734.7 L1033.0,734.5 L1034.0,734.7 L1035.5,736.0 L1036.0,735.6 L1037.0,734.0 L1037.8,733.4 L1038.5,733.8 L1039.5,735.1 L1040.0,735.4 L1041.5,732.7 L1042.0,732.5 L1043.0,734.0 L1043.5,733.9 L1044.5,732.1 L1045.0,731.5 L1045.5,731.2 L1046.0,731.6 L1047.5,734.6 L1048.0,734.9 L1050.0,728.7 L1050.5,727.6 L1050.8,727.5 L1051.5,728.5 L1053.5,733.7 L1054.5,734.4 L1055.0,734.5 L1056.0,734.3 L1057.0,734.5 L1057.5,734.3 L1059.0,731.9 L1059.5,732.3 L1060.5,734.0 L1062.5,733.8 L1063.9,732.8 L1065.0,733.4 L1066.5,733.0 L1068.5,733.1 L1069.5,732.3 L1071.5,732.5 L1072.5,732.0 L1073.0,732.1 L1074.5,732.9 L1075.0,732.8 L1076.5,730.2 L1077.0,729.9 L1077.5,730.2 L1078.5,731.8 L1079.0,731.5 L1079.5,729.0 L1080.0,723.2 L1081.0,702.9 L1081.5,695.9 L1081.7,695.4 L1082.0,697.2 L1083.5,725.2 L1084.0,729.9 L1084.5,730.4 L1085.0,729.6 L1086.0,728.9 L1087.5,712.4 L1087.9,710.6 L1088.5,714.2 L1089.5,726.4 L1090.0,729.3 L1090.5,729.2 L1091.0,729.5 L1092.0,730.5 L1093.5,730.4 L1094.0,727.3 L1094.5,719.5 L1095.5,691.6 L1096.0,685.3 L1096.5,692.2 L1097.5,720.6 L1098.0,728.0 L1098.5,729.9 L1099.5,731.0 L1100.5,731.2 L1101.0,731.0 L1102.0,731.0 L1103.0,730.2 L1104.5,728.5 L1105.0,728.6 L1106.5,730.0 L1107.5,728.8 L1109.6,724.8 L1110.0,724.8 L1110.5,725.6 L1112.0,729.5 L1112.5,730.1 L1114.0,728.4 L1114.5,728.4 L1116.0,729.1 L1117.5,728.5 L1119.5,729.5 L1121.0,725.2 L1121.5,724.2 L1122.0,724.0 L1123.5,725.8 L1124.5,728.1 L1125.0,728.8 L1125.5,728.6 L1126.0,728.1 L1126.5,725.7 L1127.5,717.7 L1128.0,714.8 L1128.2,714.4 L1128.5,715.0 L1130.0,726.3 L1130.5,726.4 L1132.0,729.5 L1132.5,729.9 L1133.0,729.8 L1134.0,729.1 L1134.5,727.8 L1135.0,724.3 L1135.5,715.8 L1136.5,688.7 L1137.0,684.3 L1137.5,692.6 L1138.5,719.0 L1139.0,725.2 L1140.0,726.8 L1141.5,727.5 L1142.0,727.6 L1142.5,727.4 L1144.0,724.9 L1144.5,724.7 L1145.0,725.2 L1146.5,728.0 L1147.0,727.8 L1148.5,726.1 L1149.0,726.0 L1149.5,726.4 L1150.0,725.2 L1150.5,722.3 L1151.5,708.3 L1153.0,669.4 L1153.5,659.0 L1154.0,654.3 L1154.5,656.9 L1155.0,665.5 L1155.5,665.6 L1156.2,656.7 L1156.5,658.1 L1157.5,681.7 L1158.0,662.6 L1158.5,630.3 L1158.9,620.0 L1159.5,641.2 L1160.0,676.5 L1160.5,694.7 L1161.0,680.0 L1161.5,673.7 L1162.0,680.0 L1163.0,710.0 L1163.5,720.3 L1164.0,725.2 L1164.5,726.3 L1165.5,727.1 L1166.0,727.2 L1166.5,726.9 L1167.5,724.7 L1168.0,724.1 L1168.5,723.9 L1169.5,725.1 L1170.0,725.4 L1171.5,718.0 L1172.0,717.2 L1172.5,718.1 L1174.0,725.5 L1174.5,726.5 L1175.5,724.5 L1176.0,724.3 L1177.5,727.0 L1178.0,727.5 L1179.0,727.4 L1180.5,725.2 L1181.0,723.0 L1182.5,713.4 L1182.9,712.6 L1183.5,714.5 L1184.5,721.2 L1185.0,723.9 L1185.5,725.4 L1186.5,724.0 L1187.0,723.9 L1189.0,725.8 L1189.5,725.9 L1190.5,725.5 L1191.0,725.6 L1191.5,726.0 L1192.0,725.9 L1193.5,724.0 L1194.0,723.6 L1195.0,723.5 L1196.0,721.3 L1196.5,720.6 L1197.0,720.4 L1197.5,720.5 L1198.0,721.1 L1199.5,725.0 L1200.0,725.5 L1200.5,725.6 L1202.0,725.1 L1202.5,723.3 L1203.0,715.3 L1203.5,694.8 L1204.5,620.5 L1205.0,603.3 L1205.5,620.9 L1206.5,695.1 L1207.0,705.4 L1207.5,693.3 L1208.0,685.4 L1208.2,684.9 L1208.5,686.8 L1210.0,717.2 L1210.5,722.3 L1211.0,724.0 L1211.5,723.3 L1213.0,718.8 L1213.5,717.9 L1214.0,718.1 L1215.5,723.0 L1216.0,723.9 L1216.5,723.8 L1217.0,723.9 L1218.0,724.9 L1218.5,725.2 L1221.0,723.5 L1221.5,723.6 L1223.0,724.9 L1224.0,724.7 L1225.0,725.2 L1225.5,725.2 L1226.0,725.0 L1226.5,724.5 L1228.5,721.8 L1229.0,721.6 L1229.5,721.9 L1230.0,722.5 L1232.0,725.5 L1232.5,725.8 L1233.0,725.7 L1235.0,723.6 L1235.5,723.4 L1236.5,723.9 L1237.0,723.7 L1238.5,721.4 L1239.0,721.2 L1239.5,721.4 L1240.0,722.0 L1240.5,722.0 L1241.5,720.5 L1242.0,720.2 L1242.5,720.3 L1243.5,721.8 L1244.0,721.8 L1244.5,721.2 L1245.0,721.7 L1246.0,723.9 L1246.5,723.7 L1247.0,722.1 L1247.5,718.6 L1249.0,697.6 L1249.5,692.9 L1249.7,692.3 L1250.0,693.3 L1250.5,698.8 L1251.5,714.7 L1252.0,719.9 L1252.5,710.4 L1253.5,679.9 L1254.0,674.6 L1254.5,684.0 L1255.5,714.2 L1256.0,721.3 L1256.5,723.1 L1257.5,722.9 L1259.0,723.6 L1260.5,722.9 L1262.5,724.1 L1263.0,724.0 L1264.0,723.4 L1264.5,723.4 L1265.5,723.0 L1266.0,722.6 L1267.5,720.3 L1268.0,720.1 L1269.0,720.9 L1269.5,721.0 L1270.0,720.3 L1270.5,720.6 L1271.5,722.4 L1272.5,720.5 L1273.0,720.6 L1274.0,722.8 L1274.5,722.0 L1275.0,718.9 L1276.5,701.8 L1277.0,699.5 L1277.5,701.8 L1279.0,718.4 L1279.5,720.5 L1280.0,720.2 L1280.5,720.4 L1282.5,722.6 L1284.0,720.3 L1284.5,720.2 L1285.0,720.8 L1286.0,723.2 L1286.5,723.6 L1288.0,720.0 L1288.5,719.3 L1289.0,719.1 L1289.5,719.5 L1290.5,721.2 L1291.5,720.0 L1292.0,720.0 L1292.5,720.6 L1293.0,720.6 L1293.5,720.1 L1294.0,720.0 L1294.5,720.4 L1296.5,724.3 L1297.5,725.5 L1298.0,725.0 L1299.0,722.5 L1299.5,722.3 L1300.5,724.8 L1301.0,724.9 L1302.0,722.8 L1302.5,722.6 L1303.0,714.1 L1304.5,642.0 L1304.8,637.2 L1305.0,639.5 L1305.5,660.4 L1306.5,710.5 L1307.0,720.8 L1307.5,722.8 L1309.0,723.9 L1309.5,722.7 L1310.5,718.9 L1311.0,717.7 L1311.5,717.5 L1312.0,718.6 L1313.5,724.2 L1314.5,724.8 L1316.5,721.6 L1317.0,721.5 L1317.5,721.7 L1318.0,720.9 L1319.0,716.6 L1319.5,715.8 L1320.0,716.3 L1321.5,721.8 L1322.0,721.8 L1323.5,723.9 L1324.0,724.3 L1325.0,723.9 L1326.0,723.7 L1330.0,721.8 L1331.5,723.1 L1332.5,721.7 L1333.0,721.3 L1333.5,721.5 L1335.0,724.1 L1335.5,724.1 L1336.5,721.7 L1338.0,712.4 L1338.5,710.0 L1338.9,709.7 L1339.5,712.2 L1340.5,718.6 L1341.0,719.9 L1342.0,715.5 L1342.5,714.7 L1343.0,715.5 L1344.5,723.0 L1345.0,724.6 L1345.5,724.3 L1346.0,723.3 L1346.5,722.8 L1347.0,723.3 L1347.5,724.4 L1348.0,724.4 L1349.0,724.1 L1351.0,718.2 L1351.5,718.8 L1352.5,722.5 L1353.0,723.7 L1353.5,723.6 L1354.5,724.2 L1356.5,727.1 L1358.0,726.4 L1358.5,725.1 L1360.0,715.9 L1360.5,713.6 L1360.8,713.1 L1361.0,713.2 L1361.5,715.2 L1362.5,722.2 L1363.0,724.8 L1363.5,726.1 L1365.0,726.8 L1366.0,726.4 L1366.5,726.5 L1368.0,725.8 L1368.5,725.9 L1369.0,726.2 L1370.0,725.5 L1370.5,725.6 L1371.5,726.9 L1373.0,727.9 L1373.5,727.9 L1375.0,726.8 L1376.5,724.7 L1377.0,724.2 L1377.5,724.1 L1379.0,724.8 L1381.0,727.5 L1382.0,728.1 L1383.0,728.2 L1384.5,729.2 L1385.0,729.3 L1386.5,729.2 L1387.5,728.9 L1389.5,729.2 L1391.0,728.6 L1393.0,729.0 L1395.0,728.2 L1396.0,728.1 L1396.7,727.3 L1397.0,727.4 L1398.0,728.4 L1398.5,728.6 L1399.5,728.1 L1400.0,728.2 L1401.5,729.3 L1403.5,729.5 L1404.5,729.5 L1406.0,728.2 L1406.5,728.0 L1408.5,729.4 L1409.0,729.2 L1410.0,728.1 L1410.5,728.2 L1412.0,729.8 L1414.0,730.4 L1416.0,729.8 L1418.0,728.3 L1418.5,728.4 L1420.0,730.0 L1420.5,730.2 L1422.0,729.2 L1423.0,728.8 L1424.0,728.0 L1424.5,728.1 L1425.5,729.4 L1426.5,729.4 L1428.0,730.5 L1428.5,729.9 L1430.0,727.0 L1430.5,726.3 L1431.0,726.0 L1431.5,726.3 L1433.5,730.3 L1434.0,730.7 L1436.5,731.2 L1438.5,731.9 L1440.5,731.0 L1441.5,731.0 L1442.0,730.7 L1443.0,729.0 L1444.5,725.3 L1445.2,724.5 L1445.5,724.4 L1446.0,725.2 L1447.5,729.7 L1448.0,730.6 L1448.5,731.1 L1449.0,731.2 L1449.5,730.8 L1450.0,729.9 L1451.5,725.3 L1452.0,724.1 L1452.5,723.6 L1453.0,724.0 L1455.0,730.1 L1456.0,732.0 L1457.0,732.8 L1459.0,732.7 L1460.0,733.0 L1461.0,732.6 L1461.5,732.1 L1462.5,730.1 L1464.5,720.5 L1465.0,719.5 L1465.5,720.0 L1467.5,729.2 L1468.5,732.0 L1469.0,732.2 L1470.0,731.8 L1471.5,733.2 L1473.0,733.3 L1474.5,731.9 L1475.0,731.8 L1476.0,731.9 L1477.5,732.7 L1478.0,732.8 L1479.5,732.6 L1481.5,731.9 L1482.0,732.0 L1483.5,732.9 L1484.5,732.0 L1485.5,731.6 L1486.5,731.9 L1488.0,733.0 L1489.0,732.3 L1489.5,732.1 L1491.5,733.1 L1492.5,733.1 L1494.5,731.8 L1495.5,731.6 L1498.0,732.9 L1499.0,732.7 L1500.5,733.3 L1502.5,732.7 L1504.5,733.3 L1506.5,733.1 L1509.5,733.3 L1510.0,733.2 L1510.5,732.3 L1511.0,730.4 L1511.5,726.8 L1513.0,710.6 L1513.4,709.3 L1514.0,712.5 L1515.5,728.7 L1516.0,731.5 L1516.5,732.9 L1517.0,733.3 L1520.0,733.7 L1521.0,733.4 L1522.0,732.4 L1522.5,732.2 L1524.0,733.1 L1525.0,732.2 L1525.5,732.4 L1526.5,733.3 L1527.0,733.2 L1529.0,731.8 L1529.5,732.1 L1530.0,732.6 L1530.5,732.7 L1532.0,730.6 L1532.5,730.3 L1535.0,733.0 L1535.5,733.2 L1536.0,732.7 L1536.5,732.7 L1537.5,733.8 L1538.0,733.7 L1540.0,731.8 L1540.9,731.3 L1542.5,732.8 L1543.5,733.4 L1544.5,732.7 L1545.0,732.8 L1546.5,733.3 L1547.0,733.1 L1547.5,732.2 L1548.0,729.2 L1548.5,721.3 L1549.5,692.3 L1550.0,685.4 L1550.5,692.0 L1551.5,720.4 L1552.0,728.1 L1552.5,730.8 L1553.5,731.4 L1555.0,731.6 L1556.5,732.1 L1558.0,732.1 L1559.0,731.7 L1561.5,730.0 L1562.5,729.9 L1564.0,730.9 L1565.5,729.6 L1566.0,729.8 L1567.0,731.0 L1567.5,731.3 L1569.5,730.8 L1570.0,729.2 L1570.5,724.6 L1571.5,703.2 L1572.0,694.3 L1572.2,693.4 L1572.5,695.3 L1574.0,726.3 L1574.5,730.0 L1575.0,730.3 L1575.5,729.7 L1576.0,727.9 L1577.5,720.3 L1578.0,719.2 L1578.5,720.1 L1580.0,728.1 L1580.5,729.6 L1581.0,730.4 L1582.0,729.8 L1582.5,729.7 L1584.0,730.4 L1586.0,729.0 L1587.0,729.3 L1589.0,726.1 L1589.5,725.7 L1591.5,726.0 L1592.0,726.4 L1593.5,729.0 L1594.5,730.1 L1595.0,730.1 L1597.0,729.5 L1598.0,728.9 L1599.5,730.4 L1600.5,730.7 L1601.5,730.2 L1603.0,728.9 L1603.5,727.0 L1604.0,721.3 L1605.0,699.6 L1605.5,694.4 L1606.0,699.4 L1607.0,721.0 L1607.5,726.9 L1608.0,728.8 L1609.5,728.8 L1611.0,729.3 L1612.0,729.0 L1613.5,729.8 L1614.5,729.9 L1616.5,727.5 L1617.0,727.4 L1617.5,727.8 L1618.0,727.8 L1620.0,726.1 L1620.5,726.2 L1622.0,728.2 L1622.5,727.8 L1624.5,721.8 L1625.0,721.2 L1625.5,721.8 L1627.0,726.5 L1627.5,727.6 L1628.0,728.2 L1628.5,728.3 L1630.0,727.8 L1631.5,727.8 L1632.5,727.3 L1633.0,727.2 L1635.0,728.2 L1635.5,726.6 L1636.0,721.6 L1637.0,697.6 L1637.5,687.6 L1637.7,686.6 L1638.0,688.8 L1639.5,722.7 L1640.0,726.0 L1640.5,725.4 L1641.0,725.2 L1641.5,725.3 L1642.5,726.3 L1643.5,728.0 L1644.0,728.2 L1645.0,728.1 L1645.5,727.5 L1646.0,725.7 L1646.5,721.9 L1647.5,710.1 L1648.0,707.1 L1648.5,708.7 L1650.0,723.0 L1650.5,722.1 L1651.5,717.4 L1652.0,716.0 L1652.5,716.9 L1654.5,724.6 L1655.0,725.2 L1656.5,722.4 L1657.0,722.3 L1658.5,725.0 L1659.5,724.2 L1660.0,723.6 L1661.5,717.3 L1662.0,716.8 L1662.5,717.6 L1664.5,723.5 L1665.0,724.0 L1665.5,720.9 L1666.0,708.4 L1666.5,676.0 L1667.5,557.4 L1668.0,529.9 L1668.5,558.1 L1669.5,676.9 L1670.0,708.9 L1670.5,721.2 L1671.0,722.3 L1672.0,722.8 L1672.5,722.6 L1673.0,721.4 L1673.5,721.1 L1674.0,721.5 L1675.5,714.3 L1676.0,712.6 L1676.3,712.4 L1676.5,712.5 L1677.0,714.1 L1678.0,719.9 L1678.5,722.2 L1679.0,723.3 L1680.5,722.9 L1681.5,723.0 L1682.5,722.8 L1684.5,722.1 L1685.5,722.5 L1686.0,722.2 L1686.5,721.2 L1687.0,719.1 L1688.0,712.9 L1688.5,710.8 L1688.8,710.5 L1689.0,710.5 L1689.5,712.0 L1690.5,717.6 L1691.0,719.1 L1691.5,718.9 L1692.0,719.1 L1694.0,720.2 L1695.5,718.8 L1696.0,718.8 L1697.0,720.0 L1697.5,720.3 L1698.0,719.2 L1699.5,711.8 L1700.0,710.7 L1700.5,711.5 L1702.0,718.8 L1702.5,720.2 L1703.5,720.3 L1704.0,720.6 L1705.5,719.9 L1706.0,720.0 L1706.5,718.5 L1707.0,714.1 L1708.5,682.2 L1708.9,678.8 L1709.5,685.3 L1710.5,708.8 L1711.0,716.1 L1711.5,718.0 L1712.0,717.3 L1712.5,716.9 L1713.0,717.2 L1714.5,719.4 L1715.0,717.3 L1715.5,707.1 L1716.0,674.4 L1717.5,402.0 L1717.8,384.1 L1718.0,392.5 L1718.5,471.8 L1719.5,662.9 L1720.0,648.7 L1720.5,642.3 L1721.0,648.7 L1722.5,700.3 L1723.0,710.7 L1723.5,715.8 L1724.0,715.1 L1725.0,712.9 L1725.2,712.6 L1725.5,712.5 L1726.0,713.6 L1727.0,717.1 L1727.5,717.7 L1728.5,716.0 L1729.0,715.7 L1730.0,716.2 L1731.0,717.2 L1731.5,717.2 L1732.5,715.5 L1733.0,715.8 L1734.0,717.6 L1734.5,717.2 L1735.0,717.0 L1735.5,717.1 L1736.0,716.8 L1737.0,712.2 L1738.5,702.3 L1739.0,701.4 L1739.5,702.5 L1741.5,714.4 L1742.0,715.9 L1742.5,716.7 L1743.0,717.2 L1743.5,717.2 L1744.5,716.4 L1745.5,716.5 L1746.5,714.8 L1747.0,714.8 L1748.5,716.0 L1749.0,714.7 L1749.5,708.4 L1750.0,692.2 L1751.0,632.5 L1751.5,618.6 L1752.0,632.5 L1753.0,691.6 L1753.5,707.9 L1754.0,713.2 L1754.5,712.8 L1756.5,713.0 L1757.0,712.8 L1760.5,714.1 L1763.5,714.0 L1764.0,713.2 L1764.5,711.4 L1766.0,703.1 L1766.5,702.2 L1767.0,703.3 L1768.5,711.3 L1769.0,712.5 L1770.0,710.9 L1770.5,710.7 L1772.5,713.1 L1774.0,711.3 L1774.5,711.3 L1775.0,711.7 L1776.0,713.1 L1776.5,713.5 L1777.5,712.3 L1778.0,712.1 L1778.5,712.2 L1779.0,711.7 L1781.0,709.0 L1781.5,708.7 L1782.0,709.3 L1783.5,711.8 L1784.0,711.9 L1784.5,711.5 L1785.0,711.5 L1786.5,713.6 L1787.0,713.9 L1788.0,714.0 L1789.5,713.6 L1790.0,713.3 L1790.5,712.0 L1791.0,709.2 L1792.5,695.9 L1792.8,695.1 L1793.0,695.4 L1793.5,698.5 L1794.5,708.2 L1795.0,711.1 L1795.5,712.4 L1796.5,711.5 L1797.0,711.4 L1799.0,711.9 L1800.0,711.3 L1801.0,711.8 L1802.0,711.7 L1803.5,712.9 L1805.0,712.6 L1807.0,713.3 L1807.5,713.0 L1809.5,710.0 L1810.0,709.6 L1810.5,709.7 L1811.5,711.0 L1812.0,708.9 L1812.5,704.7 L1813.5,692.1 L1814.1,687.8 L1814.5,689.3 L1816.0,707.8 L1816.5,711.2 L1817.0,712.8 L1817.5,712.6 L1818.5,711.3 L1819.0,711.0 L1819.5,710.8 L1820.5,711.0 L1822.0,707.6 L1823.0,706.1 L1823.5,706.4 L1824.0,707.4 L1826.0,712.2 L1827.0,713.6 L1827.5,713.9 L1828.0,713.7 L1829.0,712.2 L1829.5,711.9 L1831.0,713.1 L1833.5,712.6 L1834.0,712.3 L1836.7,707.4 L1837.0,707.4 L1837.5,708.1 L1839.0,712.0 L1839.5,712.8 L1840.0,713.1 L1841.5,713.0 L1842.0,712.8 L1843.0,711.5 L1843.5,711.3 L1845.0,713.3 L1845.5,713.4 L1846.5,713.4 L1848.0,712.5 L1848.5,712.7 L1849.5,712.8 L1850.0,712.4 L1851.0,710.5 L1851.7,709.8 L1853.5,712.4 L1854.0,712.8 L1856.5,714.4 L1857.5,714.7 L1858.5,715.2 L1859.0,715.2 L1860.5,714.3 L1861.5,714.1 L1862.5,714.4 L1863.5,715.2 L1864.0,715.3 L1865.0,715.2 L1866.5,716.1 L1867.0,716.2 L1869.0,715.8" fill="none" stroke="#FA3A3A" stroke-width="4" stroke-linejoin="round" stroke-linecap="butt"/>
<path d="M346.5,1054.9 L348.0,1055.2 L351.0,1054.9 L356.5,1055.4 L358.0,1055.0 L360.0,1055.6 L364.0,1054.9 L366.5,1055.6 L370.0,1055.4 L373.0,1055.6 L376.0,1055.4 L379.5,1055.6 L381.0,1055.1 L383.0,1055.7 L385.0,1055.2 L386.5,1055.5 L388.5,1055.3 L392.5,1055.6 L397.5,1055.4 L399.5,1055.6 L402.0,1055.0 L404.0,1055.6 L406.5,1055.5 L408.0,1055.6 L409.5,1055.2 L410.5,1055.4 L413.0,1055.3 L414.5,1055.7 L417.5,1055.7 L420.5,1055.3 L422.5,1055.6 L424.0,1055.4 L425.5,1055.7 L427.5,1055.7 L430.5,1055.4 L437.5,1055.4 L438.5,1055.1 L440.0,1055.5 L441.5,1055.2 L442.5,1055.4 L444.0,1055.3 L446.0,1055.7 L448.5,1055.6 L454.0,1055.8 L459.5,1055.3 L464.5,1055.8 L468.0,1055.4 L471.0,1055.7 L476.0,1055.5 L478.0,1055.8 L480.0,1055.6 L483.5,1055.5 L485.0,1055.7 L488.5,1055.3 L490.5,1055.4 L492.0,1055.2 L494.5,1055.6 L498.0,1055.7 L500.0,1055.3 L501.0,1055.6 L503.0,1055.4 L505.0,1055.8 L506.5,1055.8 L509.0,1055.3 L511.5,1055.6 L513.5,1055.4 L521.5,1055.7 L523.0,1055.3 L524.5,1055.7 L526.5,1055.7 L527.5,1055.4 L530.0,1054.1 L530.5,1054.2 L532.5,1055.3 L533.5,1055.7 L537.0,1055.9 L539.5,1055.4 L541.0,1055.6 L542.5,1055.3 L545.0,1056.1 L547.0,1055.5 L552.5,1055.9 L556.0,1055.9 L558.5,1055.6 L562.0,1055.8 L563.5,1055.6 L565.0,1055.7 L567.0,1055.3 L571.0,1055.7 L573.0,1055.3 L575.0,1055.2 L578.0,1055.9 L583.5,1055.9 L585.5,1055.7 L591.5,1055.9 L593.0,1055.6 L594.0,1055.6 L595.5,1055.2 L597.0,1055.6 L599.5,1054.9 L600.0,1055.0 L601.5,1055.7 L602.5,1055.9 L604.0,1055.9 L606.5,1055.2 L608.5,1055.6 L609.5,1055.4 L611.0,1055.7 L613.0,1055.5 L614.5,1055.8 L617.0,1055.7 L619.0,1055.2 L622.0,1055.6 L624.0,1056.1 L627.5,1055.7 L632.0,1056.0 L634.5,1055.3 L638.5,1056.1 L639.5,1055.9 L641.0,1055.9 L643.0,1055.1 L644.5,1055.7 L645.5,1055.9 L648.5,1055.9 L650.5,1055.3 L652.0,1055.8 L654.5,1056.0 L657.0,1055.8 L658.5,1055.2 L659.5,1055.2 L660.0,1054.7 L661.5,1052.6 L662.2,1052.2 L663.0,1052.8 L665.0,1055.1 L666.5,1055.0 L669.0,1055.7 L670.0,1055.6 L671.5,1055.0 L673.0,1055.4 L675.0,1055.5 L676.5,1055.2 L680.5,1055.8 L682.0,1055.4 L683.5,1055.8 L685.5,1055.6 L687.0,1055.6 L690.0,1055.0 L692.5,1055.6 L697.5,1055.6 L699.5,1055.3 L700.0,1054.9 L700.5,1053.5 L701.0,1050.7 L702.0,1042.1 L702.5,1040.2 L703.0,1041.9 L704.0,1050.5 L704.5,1053.4 L705.0,1054.8 L705.5,1055.0 L708.0,1055.1 L709.5,1055.4 L712.5,1054.9 L716.5,1055.5 L718.5,1054.9 L721.0,1055.3 L722.5,1055.2 L724.0,1055.4 L726.0,1054.7 L727.5,1055.2 L729.5,1055.2 L733.0,1054.9 L734.0,1054.1 L734.5,1053.4 L736.0,1050.2 L736.5,1049.4 L737.0,1049.1 L737.5,1049.6 L739.0,1053.2 L740.0,1054.7 L741.0,1054.4 L742.0,1054.9 L746.0,1054.6 L748.0,1055.2 L750.0,1054.7 L752.5,1055.1 L756.0,1054.9 L758.5,1055.2 L759.5,1054.8 L760.0,1054.2 L760.5,1053.0 L762.0,1047.9 L762.5,1047.1 L763.0,1047.6 L764.5,1052.3 L765.5,1054.3 L766.5,1054.9 L768.5,1055.2 L769.5,1055.1 L771.0,1054.6 L773.0,1054.9 L775.0,1054.3 L777.5,1055.0 L780.5,1054.8 L783.0,1054.8 L784.5,1055.1 L786.0,1054.7 L787.5,1054.8 L791.0,1054.6 L796.0,1054.9 L798.0,1054.3 L799.5,1054.8 L801.5,1054.5 L803.5,1054.8 L806.5,1054.2 L809.0,1054.7 L812.5,1054.8 L815.0,1054.0 L817.5,1054.9 L822.0,1054.1 L824.5,1054.8 L826.5,1054.0 L827.5,1054.2 L828.5,1053.9 L830.0,1054.4 L831.0,1054.4 L833.0,1053.9 L834.5,1054.3 L837.0,1054.1 L838.5,1053.6 L839.0,1053.6 L841.0,1054.4 L845.0,1054.5 L847.5,1053.9 L850.0,1054.4 L852.0,1053.8 L854.0,1054.2 L857.0,1054.2 L858.5,1054.6 L859.0,1054.6 L861.5,1053.7 L864.0,1054.5 L865.0,1054.6 L866.5,1054.6 L868.5,1053.7 L870.5,1054.3 L872.0,1054.3 L873.5,1053.9 L875.0,1054.2 L877.5,1053.7 L880.0,1054.4 L883.0,1054.1 L885.0,1054.3 L885.5,1054.2 L887.5,1053.3 L890.0,1054.3 L892.0,1053.9 L894.5,1054.3 L897.5,1053.6 L899.0,1054.1 L901.0,1053.8 L902.0,1053.9 L902.5,1053.7 L903.0,1052.8 L903.5,1050.9 L905.0,1040.5 L905.4,1039.6 L906.0,1041.6 L907.5,1052.0 L908.0,1053.5 L908.5,1054.1 L909.0,1054.2 L911.5,1053.6 L913.0,1054.2 L915.0,1054.5 L918.0,1053.9 L921.0,1053.8 L923.0,1054.0 L924.5,1053.5 L926.5,1054.1 L928.5,1054.0 L931.0,1054.2 L934.5,1054.0 L937.0,1053.5 L938.0,1053.7 L940.5,1053.7 L942.5,1054.1 L945.5,1053.5 L946.0,1053.4 L947.0,1053.8 L948.0,1053.5 L949.0,1053.7 L950.5,1053.2 L952.0,1053.6 L953.0,1053.6 L954.5,1053.9 L956.5,1053.5 L959.0,1053.5 L962.5,1054.0 L966.0,1053.4 L968.0,1053.8 L969.5,1053.6 L972.0,1054.1 L974.0,1053.5 L975.5,1053.8 L976.5,1053.8 L978.5,1053.2 L980.5,1053.9 L981.0,1053.9 L986.0,1053.1 L988.0,1053.5 L989.0,1053.4 L990.5,1054.0 L992.5,1053.2 L994.5,1053.3 L996.0,1053.7 L998.0,1053.4 L1000.0,1053.8 L1003.0,1053.6 L1004.5,1053.8 L1006.5,1053.2 L1008.5,1053.6 L1010.0,1053.1 L1010.5,1053.1 L1012.0,1053.5 L1012.5,1053.0 L1013.0,1051.5 L1014.5,1041.0 L1015.0,1039.8 L1015.5,1042.0 L1016.5,1049.9 L1017.0,1052.2 L1017.5,1053.1 L1019.0,1053.1 L1020.5,1053.7 L1022.5,1052.9 L1024.0,1053.5 L1025.0,1053.5 L1026.0,1053.8 L1028.0,1053.5 L1033.0,1053.4 L1035.0,1053.6 L1038.5,1052.2 L1039.5,1052.4 L1041.0,1053.2 L1042.5,1053.1 L1045.4,1051.3 L1046.0,1051.6 L1047.5,1053.1 L1048.0,1052.9 L1049.5,1053.1 L1052.5,1050.8 L1053.0,1051.0 L1055.0,1052.8 L1056.0,1052.8 L1058.5,1053.6 L1060.0,1053.4 L1063.0,1053.4 L1066.0,1052.8 L1068.5,1053.4 L1069.0,1053.3 L1070.5,1052.6 L1071.0,1052.5 L1073.5,1053.3 L1078.5,1052.9 L1080.5,1053.6 L1081.0,1053.6 L1082.5,1053.0 L1084.5,1053.2 L1085.5,1052.9 L1087.0,1052.9 L1090.0,1051.7 L1090.5,1051.7 L1092.0,1052.7 L1093.0,1053.0 L1093.5,1052.8 L1094.5,1051.6 L1096.0,1047.9 L1096.5,1047.3 L1097.0,1047.6 L1098.5,1051.2 L1099.5,1052.7 L1102.0,1052.7 L1105.5,1053.5 L1106.5,1053.2 L1107.0,1052.8 L1107.5,1051.9 L1108.0,1049.9 L1109.5,1040.2 L1109.8,1039.7 L1110.0,1039.9 L1110.5,1042.1 L1111.5,1049.2 L1112.0,1051.4 L1112.5,1052.5 L1115.0,1052.9 L1116.5,1052.6 L1118.5,1052.9 L1122.0,1052.6 L1123.0,1052.6 L1124.5,1051.9 L1126.0,1052.5 L1127.0,1051.9 L1129.5,1052.6 L1131.5,1052.3 L1132.5,1052.6 L1134.0,1052.7 L1134.5,1052.2 L1135.0,1049.6 L1135.5,1042.1 L1136.5,1010.7 L1137.1,1000.4 L1137.5,1005.6 L1138.5,1037.1 L1139.0,1046.9 L1139.5,1050.9 L1142.0,1051.9 L1146.5,1052.2 L1148.5,1052.2 L1149.5,1051.9 L1151.0,1052.6 L1152.5,1051.9 L1154.0,1049.5 L1154.5,1049.2 L1155.0,1049.5 L1156.0,1050.8 L1156.5,1051.0 L1157.0,1051.1 L1158.0,1050.5 L1158.5,1050.5 L1159.0,1050.0 L1160.0,1048.2 L1160.7,1047.5 L1161.0,1047.6 L1161.5,1048.4 L1163.0,1051.2 L1164.0,1052.0 L1165.5,1052.7 L1168.5,1050.8 L1169.5,1051.1 L1170.0,1050.5 L1171.5,1046.3 L1172.0,1045.7 L1172.5,1046.1 L1174.0,1050.2 L1174.5,1051.0 L1178.5,1050.7 L1180.5,1051.7 L1182.0,1051.4 L1183.0,1050.7 L1183.5,1050.6 L1184.0,1050.8 L1185.5,1052.0 L1187.5,1051.8 L1188.5,1051.4 L1189.0,1051.4 L1190.0,1051.8 L1191.5,1051.6 L1193.0,1051.8 L1194.0,1051.3 L1194.5,1050.6 L1196.5,1046.3 L1197.0,1045.8 L1197.5,1046.0 L1198.0,1046.7 L1199.5,1050.1 L1200.0,1050.8 L1200.5,1051.1 L1201.0,1051.1 L1202.0,1050.8 L1202.5,1049.7 L1203.0,1047.4 L1204.5,1036.2 L1204.8,1035.8 L1205.5,1038.9 L1207.0,1049.4 L1207.5,1049.8 L1209.0,1044.9 L1209.5,1044.2 L1210.0,1044.8 L1211.5,1049.9 L1212.0,1050.8 L1212.5,1051.3 L1213.0,1051.4 L1214.5,1051.5 L1215.5,1051.2 L1217.5,1050.8 L1218.5,1050.3 L1219.5,1050.2 L1221.0,1048.6 L1221.5,1048.6 L1222.5,1049.9 L1223.0,1050.2 L1224.0,1049.3 L1224.5,1049.4 L1226.0,1050.3 L1227.5,1050.1 L1229.0,1050.5 L1231.0,1049.8 L1231.5,1049.8 L1232.5,1050.5 L1233.0,1050.6 L1235.0,1049.0 L1236.0,1049.8 L1236.5,1049.8 L1238.0,1048.0 L1238.5,1048.0 L1240.0,1049.9 L1241.5,1048.9 L1242.0,1048.9 L1244.5,1047.3 L1245.0,1047.4 L1246.5,1048.9 L1247.0,1049.1 L1248.0,1047.1 L1249.5,1042.8 L1250.2,1041.8 L1250.5,1041.9 L1251.0,1042.9 L1252.0,1045.6 L1253.5,1029.8 L1253.8,1029.1 L1254.5,1033.9 L1255.5,1045.0 L1256.0,1047.8 L1256.5,1048.8 L1257.0,1048.8 L1258.5,1047.1 L1259.0,1047.0 L1260.5,1048.9 L1261.0,1049.2 L1262.0,1049.1 L1263.0,1048.6 L1265.0,1045.2 L1265.5,1044.7 L1266.0,1044.7 L1268.0,1047.4 L1268.5,1047.9 L1269.5,1048.4 L1271.0,1046.1 L1272.5,1047.8 L1273.0,1047.8 L1274.0,1048.3 L1274.5,1047.7 L1275.0,1046.3 L1276.5,1040.4 L1277.0,1039.2 L1277.5,1038.6 L1278.0,1039.0 L1278.5,1040.2 L1280.0,1046.1 L1280.5,1047.3 L1281.5,1046.3 L1282.5,1045.8 L1283.0,1045.9 L1284.5,1047.7 L1285.5,1047.2 L1287.0,1047.5 L1288.0,1046.6 L1288.5,1046.5 L1289.0,1046.7 L1289.5,1046.7 L1291.0,1044.4 L1291.5,1044.1 L1292.5,1044.4 L1294.5,1046.8 L1295.0,1047.1 L1295.5,1047.0 L1297.0,1045.6 L1297.5,1045.4 L1300.0,1046.2 L1301.0,1045.2 L1303.0,1042.3 L1303.5,1036.7 L1304.5,1019.3 L1304.9,1017.0 L1305.5,1023.4 L1306.5,1039.7 L1307.0,1043.2 L1309.5,1043.7 L1311.0,1041.2 L1311.5,1040.7 L1311.9,1040.7 L1312.5,1041.4 L1313.5,1044.0 L1314.0,1044.8 L1315.5,1042.7 L1316.0,1042.7 L1316.5,1043.2 L1317.0,1043.0 L1318.0,1039.9 L1319.0,1029.9 L1319.5,1026.4 L1319.7,1026.0 L1320.0,1026.8 L1321.5,1040.1 L1322.0,1042.4 L1322.5,1043.3 L1323.0,1043.5 L1323.5,1043.3 L1324.5,1042.5 L1326.0,1042.5 L1327.5,1040.6 L1328.0,1040.6 L1328.5,1041.0 L1329.5,1042.2 L1331.5,1040.4 L1332.0,1040.4 L1333.5,1042.4 L1334.0,1042.8 L1334.5,1042.9 L1336.0,1042.1 L1336.5,1041.2 L1337.0,1038.2 L1338.5,1011.0 L1338.8,1009.2 L1339.0,1010.1 L1339.5,1018.1 L1340.5,1037.6 L1341.0,1040.4 L1342.5,1029.4 L1343.0,1026.9 L1343.2,1026.6 L1343.5,1027.2 L1344.0,1030.2 L1345.5,1040.8 L1346.0,1042.5 L1346.5,1043.3 L1347.0,1043.4 L1348.5,1042.0 L1349.0,1041.2 L1350.5,1036.9 L1351.0,1036.6 L1351.5,1037.3 L1352.5,1039.8 L1353.5,1041.5 L1354.0,1041.8 L1355.0,1041.3 L1355.5,1041.3 L1357.5,1043.2 L1358.0,1042.9 L1359.0,1040.5 L1360.5,1033.0 L1361.0,1031.8 L1361.5,1033.2 L1363.0,1041.4 L1363.5,1042.2 L1365.0,1041.8 L1365.5,1041.8 L1366.5,1042.4 L1367.0,1042.4 L1368.5,1040.3 L1369.0,1040.1 L1370.0,1041.2 L1371.5,1041.8 L1372.0,1041.1 L1373.5,1034.8 L1374.0,1034.0 L1374.5,1035.1 L1376.0,1040.6 L1376.5,1041.5 L1378.5,1037.8 L1379.0,1038.0 L1380.5,1041.7 L1381.0,1042.7 L1381.5,1043.1 L1382.0,1043.2 L1383.0,1042.7 L1385.0,1043.0 L1387.5,1040.7 L1388.0,1040.9 L1390.5,1043.4 L1392.0,1044.0 L1392.5,1044.0 L1394.0,1042.9 L1395.5,1041.0 L1396.5,1040.2 L1397.5,1040.8 L1398.5,1042.7 L1399.0,1043.0 L1400.0,1041.2 L1400.5,1041.4 L1401.0,1042.6 L1401.5,1042.9 L1402.5,1042.6 L1404.0,1042.6 L1407.5,1043.6 L1409.0,1044.5 L1409.5,1044.3 L1410.5,1043.1 L1411.0,1042.7 L1411.5,1042.7 L1412.5,1042.9 L1414.0,1044.3 L1414.5,1044.2 L1416.0,1042.1 L1416.5,1041.9 L1417.0,1042.4 L1418.0,1044.5 L1418.5,1044.8 L1420.0,1041.6 L1420.5,1041.5 L1422.0,1044.0 L1422.5,1044.5 L1424.0,1045.1 L1426.0,1044.2 L1426.5,1044.1 L1427.5,1044.5 L1428.0,1044.2 L1429.0,1042.9 L1430.0,1041.1 L1430.7,1040.3 L1433.5,1044.4 L1434.0,1044.7 L1435.0,1044.9 L1436.5,1044.4 L1437.5,1044.7 L1439.5,1044.6 L1441.0,1044.4 L1441.5,1044.0 L1443.0,1041.9 L1444.0,1037.4 L1444.5,1035.7 L1444.8,1035.2 L1445.0,1035.3 L1445.5,1036.7 L1447.0,1043.3 L1447.5,1043.8 L1448.0,1043.5 L1448.5,1043.9 L1449.5,1046.0 L1450.0,1046.0 L1450.5,1045.0 L1452.0,1039.5 L1452.6,1038.6 L1453.0,1039.1 L1454.5,1043.0 L1455.0,1043.1 L1456.5,1044.8 L1457.0,1044.9 L1458.0,1044.8 L1460.5,1043.9 L1462.0,1043.1 L1462.5,1043.0 L1463.0,1043.2 L1463.5,1042.6 L1465.0,1029.9 L1465.5,1028.4 L1466.0,1030.9 L1467.0,1039.9 L1467.5,1042.7 L1468.0,1044.2 L1469.5,1045.2 L1470.5,1045.0 L1472.0,1043.5 L1472.5,1043.4 L1473.5,1044.2 L1474.0,1044.1 L1475.5,1042.9 L1476.0,1043.2 L1477.5,1044.8 L1478.0,1045.0 L1479.5,1042.9 L1481.0,1041.7 L1481.5,1041.8 L1482.0,1042.3 L1483.0,1044.3 L1483.5,1044.8 L1484.0,1044.7 L1485.5,1043.3 L1486.0,1043.2 L1488.0,1045.0 L1488.5,1045.2 L1489.0,1044.9 L1490.0,1043.7 L1491.0,1043.8 L1492.0,1043.0 L1493.0,1042.7 L1493.5,1042.9 L1496.0,1045.7 L1496.5,1045.7 L1498.0,1044.9 L1499.5,1045.8 L1500.0,1045.7 L1501.0,1043.6 L1501.5,1043.1 L1503.0,1045.8 L1503.5,1046.4 L1504.0,1046.5 L1504.5,1046.2 L1505.5,1044.8 L1506.0,1044.6 L1507.0,1045.9 L1507.5,1046.2 L1509.0,1044.2 L1509.5,1044.1 L1510.5,1044.8 L1511.0,1043.5 L1511.5,1040.0 L1513.0,1022.5 L1513.3,1021.4 L1513.5,1021.6 L1514.0,1025.8 L1515.5,1043.6 L1516.0,1045.6 L1517.0,1045.6 L1518.5,1046.8 L1519.0,1047.0 L1520.0,1046.8 L1521.5,1045.2 L1522.0,1044.8 L1522.5,1044.8 L1524.0,1046.4 L1524.5,1046.6 L1525.0,1046.5 L1527.5,1044.6 L1528.0,1044.5 L1529.0,1045.0 L1530.0,1046.7 L1530.5,1046.7 L1531.5,1045.6 L1532.0,1045.3 L1532.5,1045.3 L1534.5,1046.9 L1535.5,1047.2 L1536.5,1046.5 L1538.0,1043.6 L1538.5,1043.4 L1539.0,1044.1 L1540.0,1042.9 L1541.0,1043.1 L1542.5,1044.8 L1543.5,1045.5 L1546.0,1043.6 L1546.5,1043.8 L1547.0,1044.4 L1547.5,1043.9 L1548.0,1038.7 L1549.5,994.9 L1549.8,991.7 L1550.0,992.8 L1550.5,1005.6 L1551.5,1037.0 L1552.0,1043.4 L1552.5,1043.4 L1553.5,1041.4 L1554.0,1041.2 L1554.5,1041.7 L1555.0,1042.9 L1556.0,1043.2 L1557.5,1044.3 L1558.5,1043.2 L1559.0,1043.4 L1560.0,1044.5 L1563.0,1044.6 L1564.0,1044.8 L1564.5,1044.4 L1565.5,1041.0 L1566.0,1040.4 L1567.0,1043.4 L1567.5,1043.4 L1568.5,1041.1 L1569.0,1041.1 L1569.5,1041.9 L1570.0,1039.9 L1570.5,1031.9 L1571.5,992.8 L1572.0,976.6 L1572.2,975.0 L1572.5,978.7 L1574.0,1033.7 L1574.5,1039.9 L1575.0,1040.4 L1575.5,1037.6 L1577.0,1022.9 L1577.5,1021.2 L1578.0,1023.9 L1579.0,1034.6 L1579.5,1038.3 L1580.0,1040.1 L1581.0,1039.1 L1581.5,1038.9 L1583.5,1039.2 L1584.0,1038.7 L1585.0,1036.7 L1585.5,1036.2 L1586.0,1036.5 L1586.5,1035.6 L1587.5,1032.1 L1588.0,1031.4 L1588.5,1032.1 L1590.0,1037.5 L1591.0,1039.5 L1591.5,1039.4 L1592.5,1037.8 L1593.0,1037.8 L1594.0,1039.3 L1594.5,1039.5 L1596.0,1035.9 L1596.5,1035.6 L1597.0,1036.3 L1597.5,1037.7 L1599.0,1035.3 L1599.5,1034.9 L1600.0,1035.1 L1600.5,1035.8 L1602.0,1038.6 L1603.0,1038.4 L1603.5,1035.5 L1604.0,1026.4 L1605.0,987.2 L1605.6,973.5 L1606.0,979.5 L1607.0,1019.8 L1607.5,1032.7 L1608.0,1037.9 L1609.0,1038.3 L1609.5,1038.1 L1610.5,1036.3 L1611.0,1035.8 L1611.5,1035.7 L1612.0,1035.9 L1612.5,1035.5 L1613.0,1033.7 L1613.5,1033.1 L1614.0,1034.2 L1614.5,1036.1 L1615.5,1034.5 L1616.0,1034.3 L1617.5,1036.4 L1618.0,1035.8 L1618.5,1035.6 L1620.0,1037.2 L1620.5,1037.3 L1621.0,1036.9 L1622.5,1034.0 L1623.0,1034.1 L1624.5,1026.4 L1624.9,1025.8 L1625.5,1027.3 L1626.5,1032.4 L1627.5,1035.7 L1628.0,1035.9 L1628.5,1035.6 L1629.0,1035.1 L1630.5,1032.0 L1631.0,1031.6 L1631.5,1031.7 L1631.6,1031.6 L1632.0,1032.0 L1633.5,1035.0 L1634.5,1036.3 L1635.0,1034.4 L1635.5,1028.0 L1636.0,1013.0 L1637.0,965.9 L1637.4,958.9 L1638.0,974.5 L1639.0,1020.5 L1639.5,1031.5 L1640.0,1034.5 L1640.5,1032.6 L1641.5,1025.4 L1642.0,1023.7 L1642.5,1025.1 L1643.5,1032.4 L1644.0,1034.8 L1644.5,1035.7 L1645.0,1035.4 L1645.5,1034.2 L1646.0,1030.5 L1647.5,1002.0 L1647.8,1000.2 L1648.0,1001.3 L1648.5,1009.8 L1649.5,1030.2 L1650.0,1034.4 L1650.5,1033.6 L1651.0,1029.9 L1652.0,1018.5 L1652.5,1015.9 L1653.0,1018.1 L1654.0,1029.6 L1654.5,1033.4 L1655.0,1034.7 L1655.5,1035.3 L1656.0,1035.0 L1657.0,1035.3 L1658.5,1033.6 L1659.0,1033.3 L1659.5,1033.4 L1660.0,1032.0 L1661.5,1018.3 L1661.9,1016.9 L1662.5,1020.3 L1663.5,1031.1 L1664.0,1031.9 L1664.5,1031.3 L1665.0,1032.1 L1665.5,1033.7 L1666.0,1024.8 L1666.5,993.4 L1667.0,917.5 L1668.0,675.3 L1668.4,637.8 L1669.0,717.1 L1670.0,954.0 L1670.5,1009.7 L1671.0,1029.6 L1671.5,1032.7 L1672.5,1033.7 L1674.0,1034.0 L1675.0,1032.7 L1675.5,1032.8 L1676.0,1028.2 L1677.0,1013.5 L1677.5,1010.1 L1678.0,1012.8 L1679.0,1027.1 L1679.5,1030.2 L1680.0,1030.1 L1681.0,1030.9 L1683.0,1034.9 L1685.0,1035.8 L1685.5,1035.5 L1686.5,1033.6 L1687.0,1031.3 L1688.5,1013.7 L1688.8,1012.5 L1689.0,1013.0 L1689.5,1017.6 L1690.5,1030.2 L1691.0,1031.6 L1692.0,1025.8 L1692.5,1024.3 L1693.0,1025.5 L1694.5,1033.8 L1695.0,1034.7 L1696.0,1033.3 L1696.5,1033.2 L1697.5,1034.2 L1698.0,1031.8 L1698.5,1027.2 L1699.5,1014.5 L1700.0,1012.5 L1700.5,1016.2 L1701.5,1029.1 L1702.0,1031.7 L1703.0,1029.7 L1703.5,1029.7 L1704.0,1030.6 L1705.5,1034.8 L1706.0,1033.9 L1706.5,1030.1 L1707.0,1018.6 L1708.0,971.2 L1708.6,956.1 L1709.0,964.0 L1710.0,1012.4 L1710.5,1026.5 L1711.5,1010.0 L1712.0,1006.3 L1712.5,1009.6 L1713.5,1025.5 L1714.0,1030.8 L1714.5,1032.8 L1715.0,1031.8 L1715.5,1021.8 L1716.0,982.7 L1716.5,881.4 L1717.5,507.5 L1718.0,419.5 L1718.5,507.6 L1719.5,881.7 L1720.0,983.2 L1720.5,1022.4 L1721.0,1032.6 L1722.5,1034.1 L1723.0,1032.0 L1724.5,1019.0 L1725.0,1017.4 L1725.5,1020.0 L1727.0,1033.3 L1727.5,1033.2 L1728.0,1032.4 L1728.5,1032.5 L1729.5,1034.4 L1730.0,1034.2 L1731.5,1035.0 L1734.0,1033.4 L1734.5,1033.7 L1735.5,1034.9 L1736.0,1034.3 L1736.5,1031.8 L1737.0,1026.5 L1738.0,1009.8 L1738.5,1004.7 L1738.7,1004.5 L1739.0,1005.7 L1740.5,1026.0 L1741.0,1030.1 L1741.5,1029.7 L1742.0,1030.2 L1742.5,1031.3 L1743.0,1031.5 L1743.5,1030.9 L1744.0,1030.8 L1744.5,1031.4 L1745.5,1029.8 L1746.0,1029.4 L1746.5,1029.7 L1748.0,1032.7 L1748.5,1033.2 L1749.0,1029.6 L1749.5,1018.6 L1751.0,925.9 L1751.3,919.4 L1751.5,922.1 L1752.0,949.3 L1753.0,1014.8 L1753.5,1027.9 L1754.0,1030.1 L1755.0,1030.5 L1756.5,1032.6 L1757.5,1032.1 L1758.0,1031.3 L1759.0,1026.8 L1759.6,1025.7 L1760.0,1026.2 L1760.5,1027.7 L1762.0,1033.5 L1762.5,1034.4 L1763.0,1034.6 L1763.5,1034.2 L1764.0,1033.1 L1766.0,1026.4 L1766.5,1025.8 L1767.0,1026.5 L1768.5,1032.2 L1769.0,1032.5 L1769.5,1032.2 L1770.0,1032.4 L1771.0,1033.2 L1772.0,1033.2 L1774.0,1034.9 L1774.5,1034.9 L1776.0,1032.3 L1776.5,1032.0 L1777.0,1032.4 L1777.5,1033.1 L1778.5,1032.3 L1779.0,1032.3 L1780.0,1032.8 L1781.0,1029.7 L1781.5,1029.4 L1781.6,1030.0 L1783.5,1034.0 L1784.5,1035.7 L1786.0,1035.8 L1787.0,1036.2 L1787.5,1036.1 L1789.5,1033.1 L1790.0,1032.9 L1790.5,1032.9 L1791.0,1033.4 L1791.5,1033.2 L1792.0,1029.7 L1793.0,1019.1 L1793.5,1016.7 L1794.0,1019.0 L1795.5,1034.3 L1796.0,1036.1 L1797.5,1034.2 L1798.0,1034.1 L1799.0,1034.5 L1800.0,1033.0 L1800.5,1032.8 L1801.0,1033.3 L1802.5,1035.5 L1803.5,1036.3 L1805.0,1036.4 L1806.0,1036.3 L1807.0,1035.4 L1808.0,1034.1 L1808.5,1033.8 L1809.0,1034.2 L1810.5,1036.8 L1811.0,1037.3 L1811.5,1036.7 L1812.0,1034.8 L1813.5,1022.1 L1814.0,1020.7 L1814.5,1023.4 L1815.5,1032.9 L1816.0,1035.8 L1816.5,1037.1 L1817.0,1037.8 L1817.5,1038.0 L1818.5,1037.9 L1819.0,1038.1 L1819.5,1037.7 L1820.0,1036.8 L1821.0,1033.9 L1821.7,1032.6 L1822.0,1032.8 L1822.5,1033.9 L1824.0,1038.3 L1824.5,1038.9 L1825.0,1039.0 L1826.5,1038.2 L1828.6,1035.5 L1829.0,1035.6 L1829.5,1036.2 L1830.5,1037.8 L1831.0,1037.8 L1832.0,1036.5 L1832.5,1036.7 L1833.5,1037.9 L1834.5,1035.5 L1835.0,1034.6 L1835.5,1034.3 L1836.0,1034.6 L1838.0,1038.4 L1838.5,1038.9 L1840.5,1039.2 L1842.0,1040.1 L1842.5,1040.1 L1844.0,1039.0 L1844.5,1038.9 L1846.0,1040.1 L1847.5,1039.1 L1848.0,1039.2 L1848.5,1039.6 L1850.0,1040.2 L1851.5,1040.6 L1853.0,1040.7 L1854.5,1039.8 L1855.0,1039.7 L1857.5,1040.7 L1861.0,1039.0 L1861.5,1039.1 L1862.5,1039.8 L1863.5,1039.4 L1864.0,1039.5 L1865.5,1041.1 L1866.5,1041.2 L1868.0,1041.9 L1869.0,1042.2" fill="none" stroke="#006CE2" stroke-width="4" stroke-linejoin="round" stroke-linecap="butt"/>
<path d="M346.5,1249.9 L347.5,1249.8 L349.5,1250.1 L353.0,1250.2 L356.5,1249.8 L361.0,1250.1 L362.5,1249.7 L365.0,1250.1 L369.5,1249.7 L372.0,1250.1 L376.0,1250.1 L378.0,1249.7 L379.5,1249.8 L381.5,1249.5 L383.5,1250.0 L385.0,1249.5 L387.0,1250.0 L390.5,1250.0 L394.0,1249.7 L399.0,1250.1 L402.0,1249.9 L404.0,1249.2 L405.5,1249.5 L407.0,1249.3 L409.5,1249.9 L410.5,1250.0 L412.5,1249.3 L413.5,1249.6 L416.5,1249.9 L419.0,1249.6 L420.5,1249.7 L421.5,1249.6 L425.0,1250.0 L431.0,1249.7 L435.0,1249.8 L438.0,1249.5 L440.0,1249.7 L441.5,1249.5 L446.0,1249.7 L449.0,1249.3 L451.5,1249.9 L453.5,1249.7 L455.5,1250.0 L457.0,1249.5 L459.0,1249.8 L461.0,1249.2 L462.5,1249.9 L463.5,1250.1 L465.0,1249.8 L472.0,1249.9 L474.5,1249.3 L476.0,1249.6 L477.5,1249.3 L479.5,1249.6 L480.5,1249.4 L487.0,1249.9 L489.0,1249.7 L490.5,1249.9 L493.0,1249.8 L495.0,1249.0 L497.5,1249.9 L501.5,1249.9 L503.0,1249.7 L504.5,1249.8 L506.5,1249.5 L508.5,1249.5 L510.0,1249.0 L512.0,1249.6 L513.5,1249.4 L518.5,1249.8 L521.0,1249.3 L522.5,1249.7 L524.0,1249.8 L526.5,1249.0 L527.5,1249.2 L529.0,1249.8 L531.0,1249.3 L533.0,1249.5 L535.0,1249.1 L537.0,1249.6 L540.5,1249.3 L542.0,1249.6 L544.0,1249.3 L546.0,1249.5 L547.5,1249.1 L551.5,1249.7 L554.5,1249.3 L556.5,1249.5 L558.5,1249.2 L561.0,1249.6 L564.5,1249.5 L567.0,1249.1 L572.0,1249.7 L574.5,1249.6 L576.0,1249.0 L579.5,1249.9 L582.0,1249.5 L584.0,1249.6 L586.5,1249.1 L588.0,1249.3 L588.5,1248.7 L589.0,1247.0 L590.5,1235.6 L590.9,1234.5 L591.5,1237.0 L592.5,1245.4 L594.0,1245.1 L595.0,1245.3 L596.0,1246.0 L597.5,1247.7 L598.5,1248.6 L600.5,1249.4 L602.0,1248.9 L605.5,1249.4 L608.5,1248.8 L610.5,1249.5 L611.5,1248.9 L613.5,1246.8 L614.4,1246.2 L615.0,1246.5 L617.0,1248.7 L620.0,1249.4 L621.0,1249.4 L624.0,1248.7 L627.5,1249.0 L629.0,1248.8 L631.0,1249.0 L633.0,1248.6 L636.0,1248.9 L638.0,1248.5 L639.5,1248.9 L642.0,1248.3 L643.5,1248.9 L644.0,1248.9 L646.0,1248.4 L647.5,1247.8 L649.5,1247.5 L651.5,1247.7 L653.0,1248.2 L654.5,1248.0 L658.5,1248.6 L659.5,1248.1 L661.0,1245.7 L661.5,1245.1 L661.9,1245.0 L662.5,1245.3 L663.5,1246.8 L664.0,1247.3 L665.5,1242.7 L666.0,1241.5 L666.4,1241.2 L667.0,1241.9 L668.5,1246.6 L669.0,1247.7 L670.0,1248.5 L673.5,1249.1 L675.0,1248.7 L677.5,1248.4 L679.5,1248.7 L682.0,1248.4 L685.5,1248.9 L687.5,1248.6 L688.0,1248.0 L688.5,1246.4 L689.0,1242.7 L690.5,1220.8 L690.8,1219.6 L691.0,1220.2 L691.5,1225.9 L692.5,1241.9 L693.0,1246.1 L693.5,1247.8 L697.0,1248.4 L698.5,1248.4 L699.5,1247.9 L700.0,1247.2 L700.5,1244.7 L702.0,1225.2 L702.5,1222.2 L703.0,1225.4 L704.0,1239.9 L704.5,1244.8 L705.0,1247.2 L705.5,1247.7 L706.5,1248.0 L711.0,1248.5 L716.0,1248.3 L717.0,1248.5 L717.5,1248.1 L718.0,1246.7 L718.5,1243.6 L720.0,1224.7 L720.5,1222.0 L721.0,1224.5 L722.5,1243.3 L723.0,1246.3 L723.5,1247.7 L726.5,1248.4 L727.0,1248.4 L729.5,1247.6 L731.0,1247.7 L732.0,1248.1 L732.5,1247.9 L733.0,1246.1 L733.5,1239.8 L734.0,1224.8 L735.0,1176.9 L735.4,1169.5 L736.0,1185.2 L737.0,1232.2 L737.5,1243.3 L738.0,1246.2 L738.5,1246.5 L741.5,1247.5 L742.0,1247.6 L743.5,1247.3 L745.0,1247.8 L748.0,1248.0 L749.0,1247.2 L750.5,1245.4 L751.3,1245.0 L752.0,1245.3 L754.0,1247.6 L755.5,1247.6 L757.5,1247.9 L758.5,1247.9 L759.5,1247.6 L760.0,1247.1 L760.5,1246.0 L762.5,1236.2 L763.0,1235.2 L763.5,1236.0 L765.5,1245.9 L766.0,1247.1 L766.5,1247.6 L767.5,1247.5 L769.5,1247.9 L770.5,1247.8 L772.0,1248.0 L774.5,1247.8 L776.0,1247.9 L779.5,1247.5 L781.5,1248.0 L784.0,1247.7 L785.5,1247.9 L787.0,1247.6 L790.0,1247.7 L792.0,1247.2 L794.0,1247.6 L795.5,1247.6 L796.5,1247.4 L798.0,1247.7 L799.0,1247.4 L801.0,1247.5 L802.5,1247.0 L804.0,1247.1 L806.0,1247.6 L807.5,1247.3 L809.0,1246.2 L810.0,1245.8 L810.5,1245.9 L812.0,1247.0 L812.5,1246.8 L813.0,1246.9 L814.5,1247.9 L815.5,1247.8 L817.0,1246.8 L818.5,1247.3 L821.0,1247.4 L822.5,1247.8 L825.0,1247.5 L825.5,1247.4 L826.0,1246.8 L826.5,1245.4 L827.0,1242.7 L828.0,1234.3 L828.5,1231.5 L828.7,1231.2 L829.0,1231.9 L830.5,1243.4 L831.0,1245.9 L833.0,1238.6 L833.5,1238.2 L834.0,1239.0 L835.5,1244.8 L836.0,1245.9 L836.5,1246.6 L837.0,1246.9 L838.5,1247.3 L840.5,1247.3 L842.0,1246.6 L842.5,1246.6 L844.0,1247.4 L845.5,1247.6 L848.0,1247.3 L850.0,1247.4 L854.0,1247.1 L855.0,1247.3 L857.0,1247.1 L858.0,1247.2 L859.0,1246.8 L861.0,1244.4 L861.5,1244.1 L862.0,1244.1 L862.5,1244.5 L864.0,1246.3 L865.0,1247.0 L866.0,1246.3 L867.5,1244.4 L868.5,1243.7 L869.0,1243.8 L869.5,1244.3 L871.0,1246.5 L872.0,1247.1 L874.5,1247.4 L876.5,1247.0 L878.5,1247.1 L879.5,1246.5 L880.0,1245.8 L881.5,1241.5 L882.0,1240.5 L882.3,1240.3 L882.5,1240.3 L883.0,1241.1 L884.5,1245.5 L885.0,1246.3 L886.0,1246.9 L888.0,1246.8 L890.0,1247.2 L891.5,1247.0 L893.5,1247.1 L894.0,1246.9 L895.5,1245.6 L897.5,1241.7 L898.2,1241.0 L898.5,1241.1 L899.0,1241.9 L900.5,1245.4 L901.5,1246.7 L902.0,1246.3 L902.5,1242.7 L903.0,1231.1 L904.5,1134.0 L904.8,1127.5 L905.0,1130.4 L905.5,1158.7 L906.5,1226.9 L907.0,1241.0 L907.5,1243.8 L908.0,1243.7 L908.5,1242.6 L909.2,1241.9 L909.5,1242.0 L910.0,1242.8 L911.5,1246.0 L913.0,1246.5 L914.5,1246.8 L918.0,1246.6 L920.0,1247.1 L921.5,1246.6 L923.0,1247.5 L923.5,1247.6 L926.0,1247.1 L927.0,1246.1 L928.5,1243.9 L929.5,1243.1 L930.0,1243.3 L932.0,1246.6 L933.0,1247.3 L939.0,1247.3 L941.0,1247.7 L942.5,1246.8 L943.5,1246.6 L944.0,1246.1 L946.1,1242.1 L946.5,1242.2 L947.0,1243.0 L948.5,1246.6 L949.0,1247.2 L950.5,1245.5 L951.0,1245.3 L951.5,1245.6 L953.0,1247.1 L954.0,1247.6 L955.0,1247.3 L956.0,1247.4 L957.5,1247.0 L959.0,1247.6 L960.0,1246.4 L960.5,1246.2 L961.5,1246.9 L962.0,1246.5 L962.5,1246.5 L964.0,1247.8 L965.5,1248.2 L967.0,1247.7 L969.0,1246.3 L969.5,1245.8 L971.0,1240.5 L971.5,1239.1 L972.0,1238.5 L972.5,1239.2 L974.0,1245.3 L974.5,1246.7 L975.0,1247.3 L976.5,1246.7 L977.0,1246.7 L977.5,1246.8 L979.0,1248.0 L979.5,1248.1 L981.0,1247.8 L982.5,1246.7 L983.0,1246.6 L985.5,1247.5 L987.5,1247.6 L989.0,1247.0 L990.0,1247.4 L992.0,1247.0 L993.0,1247.4 L993.5,1247.3 L994.5,1246.1 L996.0,1242.1 L996.5,1241.1 L996.9,1240.9 L997.5,1241.8 L999.0,1245.7 L1000.0,1247.0 L1000.5,1247.2 L1002.0,1247.1 L1003.0,1247.3 L1004.0,1247.2 L1004.5,1247.5 L1005.0,1247.0 L1006.5,1243.2 L1007.0,1242.6 L1007.5,1243.0 L1009.5,1246.9 L1010.0,1247.2 L1011.0,1246.6 L1011.5,1242.5 L1012.0,1230.0 L1013.5,1127.1 L1013.8,1120.2 L1014.0,1123.3 L1014.5,1153.3 L1015.5,1226.0 L1016.0,1240.9 L1016.5,1243.9 L1017.5,1244.3 L1019.5,1245.9 L1021.0,1245.8 L1022.5,1246.6 L1024.0,1246.2 L1025.5,1246.5 L1027.0,1245.6 L1027.5,1245.5 L1028.5,1246.0 L1030.0,1245.6 L1030.5,1245.9 L1031.0,1245.7 L1031.5,1244.8 L1032.0,1244.4 L1032.5,1244.7 L1033.5,1246.0 L1034.0,1246.1 L1035.0,1245.6 L1035.5,1245.7 L1036.0,1245.0 L1036.5,1243.8 L1037.5,1239.8 L1038.0,1238.2 L1038.3,1237.8 L1039.0,1239.4 L1040.5,1244.6 L1041.5,1244.4 L1042.5,1245.2 L1043.5,1245.2 L1044.0,1245.0 L1045.0,1243.7 L1045.5,1243.3 L1048.5,1245.8 L1049.0,1246.0 L1049.5,1245.8 L1050.0,1245.2 L1052.0,1239.9 L1052.5,1239.3 L1053.0,1239.9 L1054.5,1243.9 L1056.0,1245.4 L1057.5,1245.4 L1060.0,1244.3 L1061.0,1244.7 L1062.0,1245.5 L1064.5,1244.2 L1065.0,1244.3 L1066.5,1245.9 L1067.0,1246.2 L1070.0,1245.4 L1072.0,1245.5 L1073.0,1245.2 L1074.0,1245.5 L1074.5,1245.3 L1075.5,1243.9 L1076.0,1243.4 L1076.5,1243.4 L1078.0,1244.7 L1078.5,1244.8 L1079.5,1243.0 L1081.5,1235.1 L1082.0,1234.4 L1082.5,1235.0 L1083.0,1236.4 L1084.5,1242.5 L1085.0,1243.4 L1087.0,1231.6 L1087.6,1230.0 L1088.0,1230.6 L1089.5,1240.1 L1090.5,1244.1 L1091.0,1245.1 L1091.5,1245.4 L1092.5,1245.6 L1093.5,1244.9 L1094.0,1241.6 L1094.5,1231.4 L1095.5,1180.9 L1096.0,1160.1 L1096.2,1158.0 L1096.5,1162.8 L1098.0,1233.8 L1098.5,1242.3 L1099.0,1243.1 L1102.0,1244.4 L1103.0,1244.4 L1104.0,1244.1 L1106.0,1244.7 L1106.5,1244.7 L1107.0,1244.2 L1107.5,1242.2 L1108.0,1238.2 L1109.0,1226.4 L1109.5,1224.0 L1110.0,1226.7 L1111.0,1238.5 L1111.5,1242.3 L1112.0,1244.2 L1112.5,1244.1 L1114.5,1245.1 L1116.0,1244.9 L1117.5,1242.8 L1118.0,1243.3 L1118.5,1244.3 L1119.0,1244.6 L1120.5,1243.5 L1121.0,1243.2 L1122.0,1243.3 L1123.0,1242.0 L1123.5,1241.7 L1124.0,1242.1 L1125.5,1244.2 L1126.0,1244.5 L1127.0,1243.6 L1128.5,1240.8 L1129.0,1240.6 L1130.0,1241.5 L1131.5,1243.4 L1134.0,1244.6 L1134.5,1243.1 L1135.0,1237.6 L1136.5,1190.5 L1136.8,1187.3 L1137.0,1188.6 L1137.5,1202.2 L1138.5,1235.2 L1139.0,1242.1 L1139.5,1243.4 L1140.0,1243.4 L1141.5,1239.4 L1142.0,1238.5 L1142.5,1238.2 L1143.0,1238.7 L1145.0,1243.7 L1145.5,1244.1 L1146.5,1243.2 L1147.0,1243.4 L1148.0,1244.9 L1148.5,1245.0 L1150.0,1243.8 L1150.5,1243.8 L1152.0,1244.1 L1152.5,1241.6 L1154.0,1221.8 L1154.5,1218.6 L1155.0,1221.4 L1156.5,1240.8 L1157.0,1243.1 L1157.5,1242.8 L1158.0,1240.5 L1159.5,1227.0 L1159.8,1226.2 L1160.0,1226.5 L1160.5,1230.1 L1161.5,1240.1 L1162.0,1242.8 L1162.5,1243.9 L1164.0,1242.4 L1165.0,1241.9 L1165.5,1241.9 L1166.0,1242.2 L1167.0,1243.3 L1169.5,1242.9 L1171.5,1235.8 L1172.0,1235.2 L1172.5,1235.9 L1174.0,1241.6 L1175.0,1243.7 L1176.0,1243.9 L1177.0,1243.6 L1178.0,1243.6 L1180.0,1244.2 L1182.0,1243.1 L1183.5,1243.7 L1184.5,1243.3 L1186.0,1242.0 L1186.5,1242.1 L1188.0,1242.9 L1189.5,1242.3 L1190.5,1242.4 L1192.5,1243.8 L1193.0,1243.8 L1194.0,1243.5 L1194.5,1243.0 L1196.0,1239.9 L1196.5,1239.0 L1197.0,1238.7 L1197.5,1238.9 L1198.0,1239.6 L1199.5,1242.5 L1200.0,1243.1 L1200.5,1243.4 L1202.0,1243.3 L1202.5,1242.7 L1203.0,1239.5 L1203.5,1232.0 L1204.5,1208.2 L1204.9,1204.5 L1205.5,1212.8 L1206.5,1236.3 L1207.0,1241.7 L1207.5,1242.8 L1208.5,1241.7 L1209.0,1241.8 L1210.5,1243.1 L1211.0,1243.1 L1212.0,1242.5 L1213.0,1242.4 L1215.0,1243.5 L1216.0,1242.6 L1216.5,1242.5 L1217.0,1242.9 L1218.5,1242.5 L1220.0,1243.4 L1221.0,1242.4 L1221.5,1242.3 L1223.0,1243.6 L1224.0,1243.8 L1225.0,1242.7 L1225.5,1242.4 L1227.0,1244.2 L1227.5,1244.3 L1229.0,1243.6 L1229.5,1243.7 L1231.0,1244.3 L1231.5,1244.4 L1234.5,1243.9 L1236.0,1242.3 L1236.5,1242.4 L1238.0,1243.7 L1239.5,1244.2 L1241.5,1243.7 L1245.0,1244.3 L1246.0,1244.0 L1248.5,1243.8 L1249.5,1244.1 L1250.5,1244.1 L1251.5,1244.8 L1252.0,1243.1 L1252.5,1238.4 L1253.5,1219.1 L1254.1,1213.0 L1254.5,1216.0 L1255.5,1235.2 L1256.0,1241.4 L1256.5,1244.0 L1258.0,1244.5 L1259.0,1244.2 L1259.5,1244.2 L1262.5,1245.1 L1263.5,1244.8 L1264.0,1244.3 L1266.0,1241.0 L1266.6,1240.6 L1267.0,1240.8 L1267.5,1241.7 L1268.5,1243.9 L1269.0,1244.2 L1270.0,1244.6 L1271.0,1244.4 L1272.0,1244.6 L1274.0,1243.9 L1274.5,1243.9 L1277.5,1245.2 L1280.0,1244.8 L1282.0,1245.1 L1283.5,1244.7 L1285.0,1245.0 L1286.0,1244.9 L1287.0,1245.3 L1287.5,1245.2 L1289.0,1244.2 L1289.5,1244.2 L1292.0,1245.3 L1294.0,1245.8 L1296.5,1245.7 L1298.0,1244.8 L1298.5,1244.6 L1300.5,1245.6 L1301.5,1245.3 L1303.0,1245.3 L1303.5,1244.7 L1305.0,1242.1 L1305.5,1241.7 L1306.0,1241.8 L1306.5,1242.4 L1308.0,1245.0 L1308.5,1245.4 L1310.5,1245.6 L1312.0,1245.1 L1312.5,1245.1 L1314.5,1245.8 L1316.5,1245.1 L1318.0,1245.6 L1319.5,1245.2 L1322.0,1244.9 L1324.0,1245.6 L1325.5,1245.6 L1327.0,1246.2 L1328.0,1245.9 L1330.0,1244.7 L1331.0,1245.0 L1332.5,1246.0 L1334.5,1245.3 L1335.0,1245.3 L1336.5,1245.9 L1338.0,1245.3 L1338.5,1245.4 L1340.0,1246.4 L1345.5,1245.2 L1347.0,1245.6 L1348.0,1245.3 L1349.0,1245.8 L1350.5,1245.4 L1351.5,1245.6 L1353.0,1246.5 L1354.0,1246.9 L1355.5,1246.4 L1357.0,1245.2 L1357.5,1245.5 L1358.5,1246.6 L1359.0,1246.4 L1361.2,1243.7 L1361.5,1243.7 L1362.0,1244.2 L1363.0,1245.6 L1363.5,1245.8 L1364.5,1245.6 L1365.0,1245.8 L1366.0,1246.8 L1367.0,1247.2 L1369.0,1246.6 L1370.5,1246.8 L1373.5,1246.0 L1376.5,1247.0 L1378.0,1246.5 L1379.0,1246.7 L1380.5,1246.7 L1382.0,1247.4 L1387.5,1247.4 L1389.5,1247.9 L1391.5,1247.2 L1396.0,1247.4 L1398.0,1247.8 L1399.5,1247.7 L1401.5,1248.1 L1402.0,1248.1 L1404.0,1246.7 L1405.0,1246.4 L1405.5,1246.7 L1407.0,1248.1 L1407.5,1248.2 L1409.5,1247.9 L1411.0,1246.7 L1411.5,1246.5 L1413.5,1247.9 L1416.5,1247.1 L1417.0,1247.2 L1419.0,1248.3 L1423.0,1248.2 L1426.5,1247.4 L1427.5,1247.5 L1429.0,1248.2 L1431.0,1247.0 L1431.5,1246.9 L1433.5,1247.7 L1435.0,1248.6 L1435.5,1248.7 L1437.5,1248.5 L1438.5,1248.7 L1440.0,1248.4 L1444.0,1248.8 L1446.0,1248.5 L1449.5,1248.6 L1450.5,1248.5 L1452.6,1247.4 L1453.5,1247.6 L1455.0,1248.7 L1456.5,1249.0 L1458.0,1248.8 L1459.0,1248.4 L1461.5,1248.7 L1463.0,1248.1 L1464.0,1248.6 L1465.5,1247.7 L1465.9,1247.7 L1468.0,1248.9 L1469.0,1249.2 L1470.0,1249.2 L1472.0,1248.5 L1473.5,1249.3 L1475.0,1248.8 L1477.5,1249.6 L1480.5,1249.0 L1482.5,1249.4 L1485.0,1248.6 L1487.0,1249.5 L1487.5,1249.5 L1489.0,1249.1 L1490.0,1249.4 L1491.0,1248.9 L1491.5,1248.9 L1493.5,1249.7 L1496.5,1249.3 L1498.5,1249.7 L1500.0,1249.2 L1504.0,1249.0 L1505.5,1249.5 L1508.5,1248.4 L1509.0,1248.5 L1510.0,1249.0 L1510.5,1248.7 L1511.5,1246.9 L1513.0,1242.3 L1513.5,1241.3 L1514.0,1240.9 L1514.5,1241.6 L1516.5,1247.7 L1517.0,1248.5 L1518.0,1249.2 L1519.5,1248.9 L1521.0,1248.3 L1521.5,1248.3 L1523.5,1249.6 L1527.0,1248.8 L1530.0,1249.7 L1533.0,1249.0 L1535.0,1249.2 L1537.0,1248.7 L1539.0,1248.9 L1540.0,1248.1 L1540.5,1248.3 L1541.5,1249.4 L1543.5,1248.6 L1546.0,1249.4 L1547.0,1249.1 L1547.5,1248.2 L1548.0,1246.4 L1549.5,1237.6 L1550.1,1235.9 L1550.5,1236.4 L1551.0,1238.6 L1552.5,1246.7 L1553.0,1248.1 L1553.5,1248.7 L1554.5,1249.4 L1555.0,1249.4 L1556.5,1249.0 L1558.0,1249.4 L1559.5,1249.3 L1562.0,1249.6 L1564.5,1248.7 L1567.5,1249.0 L1569.5,1248.6 L1570.5,1246.6 L1572.0,1241.9 L1572.5,1241.3 L1573.0,1241.7 L1575.0,1247.6 L1576.0,1248.7 L1579.5,1248.1 L1582.0,1248.9 L1583.0,1248.1 L1583.5,1247.8 L1584.0,1247.8 L1586.0,1248.9 L1587.0,1249.0 L1587.5,1249.0 L1590.0,1248.3 L1592.0,1248.8 L1593.0,1248.6 L1595.0,1248.9 L1596.5,1248.2 L1598.0,1248.6 L1599.5,1247.8 L1600.0,1247.8 L1601.5,1248.5 L1603.0,1247.8 L1603.5,1247.0 L1604.0,1245.1 L1605.5,1235.8 L1605.9,1235.0 L1606.5,1236.7 L1607.5,1243.0 L1608.5,1247.2 L1609.0,1248.1 L1610.0,1248.2 L1611.5,1248.7 L1613.5,1248.0 L1615.0,1248.2 L1617.0,1247.6 L1619.0,1248.2 L1620.5,1246.2 L1621.0,1246.3 L1622.0,1247.2 L1622.5,1247.4 L1625.0,1247.7 L1626.0,1247.6 L1628.0,1246.8 L1628.5,1246.9 L1630.0,1248.3 L1630.5,1248.5 L1631.0,1248.3 L1632.5,1246.0 L1633.0,1245.9 L1634.0,1247.0 L1634.5,1247.2 L1635.0,1246.5 L1635.5,1245.1 L1637.0,1238.7 L1637.4,1238.1 L1638.0,1239.4 L1639.0,1243.7 L1640.0,1246.2 L1642.0,1245.7 L1642.5,1245.9 L1644.0,1246.9 L1645.0,1246.2 L1646.5,1245.5 L1647.5,1244.9 L1648.0,1245.1 L1648.5,1245.6 L1651.0,1246.7 L1651.5,1246.7 L1652.5,1246.4 L1654.0,1246.6 L1656.5,1245.3 L1657.0,1245.2 L1658.5,1246.2 L1659.0,1246.1 L1660.0,1244.7 L1660.5,1245.2 L1661.5,1244.9 L1662.0,1244.6 L1662.5,1244.6 L1663.0,1245.0 L1664.0,1245.9 L1665.0,1245.7 L1665.5,1245.5 L1666.0,1242.7 L1666.5,1234.4 L1667.5,1193.8 L1668.0,1177.0 L1668.2,1175.2 L1668.5,1179.0 L1670.0,1236.5 L1670.5,1243.5 L1671.0,1244.4 L1672.5,1244.6 L1674.0,1245.1 L1675.5,1245.2 L1677.0,1243.7 L1677.5,1243.3 L1678.0,1243.1 L1679.5,1244.5 L1680.5,1244.6 L1681.5,1245.1 L1684.0,1245.0 L1685.5,1245.7 L1686.5,1245.9 L1688.5,1243.6 L1689.1,1243.2 L1689.5,1243.4 L1690.0,1244.0 L1691.0,1245.7 L1691.5,1245.9 L1692.5,1245.6 L1693.5,1244.9 L1694.5,1244.6 L1696.5,1245.4 L1698.0,1245.4 L1699.0,1245.0 L1700.0,1244.9 L1702.0,1246.1 L1702.5,1246.2 L1704.0,1245.0 L1704.5,1244.8 L1705.5,1245.1 L1706.0,1244.5 L1706.5,1242.6 L1708.0,1231.3 L1708.4,1230.1 L1709.0,1232.3 L1710.0,1240.1 L1710.5,1242.7 L1711.0,1244.0 L1711.5,1243.7 L1712.0,1243.7 L1713.5,1245.0 L1714.5,1245.1 L1715.0,1244.4 L1715.5,1240.7 L1716.0,1228.5 L1716.5,1199.3 L1717.5,1106.4 L1717.9,1091.8 L1718.5,1122.0 L1719.5,1213.3 L1720.0,1234.7 L1720.5,1241.2 L1723.0,1243.0 L1725.5,1243.9 L1727.0,1243.8 L1728.0,1244.3 L1728.5,1244.1 L1729.5,1243.0 L1730.0,1242.9 L1731.0,1243.7 L1732.5,1243.6 L1734.0,1244.1 L1734.5,1244.0 L1736.0,1242.4 L1737.0,1242.1 L1739.0,1235.6 L1739.5,1234.5 L1739.8,1234.4 L1740.5,1235.7 L1742.0,1241.3 L1742.5,1242.5 L1743.0,1243.2 L1744.0,1242.5 L1746.5,1243.4 L1747.5,1243.3 L1748.0,1243.0 L1748.5,1241.9 L1749.0,1239.2 L1750.5,1221.2 L1751.0,1219.2 L1751.5,1222.9 L1752.5,1236.3 L1753.0,1240.5 L1753.5,1242.4 L1754.0,1242.6 L1755.0,1242.5 L1756.0,1241.5 L1757.0,1240.9 L1757.5,1240.8 L1758.0,1241.1 L1760.0,1238.5 L1760.5,1238.9 L1761.5,1240.6 L1762.0,1241.0 L1762.5,1241.1 L1763.0,1240.7 L1763.5,1240.6 L1765.0,1241.4 L1765.5,1241.4 L1766.5,1241.3 L1767.5,1240.6 L1768.0,1240.5 L1769.5,1241.2 L1770.5,1241.3 L1772.0,1240.1 L1773.0,1239.7 L1774.0,1239.8 L1775.0,1240.6 L1777.0,1239.5 L1777.5,1239.5 L1778.5,1240.5 L1779.0,1240.5 L1780.0,1239.2 L1780.5,1238.7 L1781.0,1238.7 L1782.5,1240.4 L1783.0,1240.6 L1784.0,1238.7 L1784.5,1238.7 L1786.0,1240.7 L1787.5,1241.0 L1788.5,1240.9 L1789.5,1240.5 L1790.0,1240.1 L1791.0,1238.7 L1792.5,1230.5 L1793.0,1228.7 L1793.2,1228.5 L1793.5,1228.8 L1794.0,1231.1 L1795.0,1236.9 L1795.5,1238.5 L1796.0,1239.3 L1796.5,1239.3 L1798.0,1238.9 L1798.5,1238.9 L1799.0,1239.2 L1799.5,1239.0 L1800.5,1237.9 L1801.0,1237.6 L1801.5,1237.5 L1802.0,1237.7 L1803.5,1239.6 L1804.0,1239.5 L1805.0,1238.3 L1805.5,1238.1 L1806.0,1238.2 L1807.5,1239.6 L1810.0,1238.4 L1810.5,1238.3 L1811.5,1238.7 L1812.0,1238.4 L1812.5,1236.9 L1813.5,1232.0 L1814.1,1230.6 L1814.5,1231.3 L1816.0,1237.6 L1816.5,1238.9 L1818.0,1239.6 L1819.5,1239.4 L1820.0,1239.1 L1821.0,1237.9 L1821.5,1237.8 L1822.5,1238.7 L1823.5,1237.8 L1824.0,1237.7 L1825.5,1238.8 L1827.0,1238.3 L1827.5,1238.3 L1829.0,1239.3 L1830.5,1238.3 L1831.0,1238.3 L1833.0,1237.2 L1834.0,1237.4 L1835.0,1236.5 L1835.5,1236.3 L1836.5,1236.5 L1838.5,1238.0 L1839.5,1238.1 L1840.5,1237.5 L1841.0,1237.7 L1842.0,1238.6 L1843.5,1237.5 L1844.0,1237.6 L1845.0,1238.5 L1847.0,1238.2 L1849.5,1238.6 L1850.0,1238.4 L1851.5,1237.1 L1852.5,1237.5 L1853.5,1238.4 L1854.0,1238.6 L1855.0,1238.4 L1856.0,1238.5 L1857.0,1239.0 L1857.5,1239.1 L1859.0,1238.2 L1859.5,1238.2 L1861.5,1237.6 L1862.5,1237.5 L1863.5,1236.8 L1864.0,1236.8 L1864.5,1237.2 L1865.5,1238.5 L1866.0,1238.5 L1867.5,1237.7 L1868.5,1237.8 L1869.0,1238.1" fill="none" stroke="#00AC64" stroke-width="4" stroke-linejoin="round" stroke-linecap="butt"/>
<text x="565.2" y="1350" font-size="51" text-anchor="middle" letter-spacing="2.5">10</text>
<text x="1000.2" y="1350" font-size="51" text-anchor="middle" letter-spacing="2.5">20</text>
<text x="1435.2" y="1350" font-size="51" text-anchor="middle" letter-spacing="2.5">30</text>
<text x="1870.2" y="1350" font-size="51" text-anchor="middle" letter-spacing="2.5">40</text>
<text x="321.5" y="1300.2" font-size="52" text-anchor="end" letter-spacing="0.5">0.0</text>
<text x="320.5" y="1151.8" font-size="51" text-anchor="end" letter-spacing="0.6">5.0<tspan font-weight="normal" dy="1.5">×</tspan><tspan dy="-1.5">10</tspan><tspan font-size="35" dy="-21">5</tspan></text>
<text x="320.5" y="999.0" font-size="51" text-anchor="end" letter-spacing="0.6">1.0<tspan font-weight="normal" dy="1.5">×</tspan><tspan dy="-1.5">10</tspan><tspan font-size="35" dy="-21">6</tspan></text>
<text x="320.5" y="846.1" font-size="51" text-anchor="end" letter-spacing="0.6">1.5<tspan font-weight="normal" dy="1.5">×</tspan><tspan dy="-1.5">10</tspan><tspan font-size="35" dy="-21">6</tspan></text>
<text x="320.5" y="693.2" font-size="51" text-anchor="end" letter-spacing="0.6">2.0<tspan font-weight="normal" dy="1.5">×</tspan><tspan dy="-1.5">10</tspan><tspan font-size="35" dy="-21">6</tspan></text>
<text x="320.5" y="540.3" font-size="51" text-anchor="end" letter-spacing="0.6">2.5<tspan font-weight="normal" dy="1.5">×</tspan><tspan dy="-1.5">10</tspan><tspan font-size="35" dy="-21">6</tspan></text>
<text x="320.5" y="387.5" font-size="51" text-anchor="end" letter-spacing="0.6">3.0<tspan font-weight="normal" dy="1.5">×</tspan><tspan dy="-1.5">10</tspan><tspan font-size="35" dy="-21">6</tspan></text>
<text x="320.5" y="234.6" font-size="51" text-anchor="end" letter-spacing="0.6">3.5<tspan font-weight="normal" dy="1.5">×</tspan><tspan dy="-1.5">10</tspan><tspan font-size="35" dy="-21">6</tspan></text>
<text x="320.5" y="81.7" font-size="51" text-anchor="end" letter-spacing="0.6">4.0<tspan font-weight="normal" dy="1.5">×</tspan><tspan dy="-1.5">10</tspan><tspan font-size="35" dy="-21">6</tspan></text>
<text x="1108.5" y="1467" font-size="81.6" text-anchor="middle">Time (min)</text>
<text transform="translate(82,645) rotate(-90)" x="0" y="0" font-size="81" text-anchor="middle">Abundance (a.u.)</text>
<text x="378" y="230" font-size="64">Raw bio-oil</text>
<text x="378" y="610" font-size="64">Ni 150°C</text>
<text x="377" y="906" font-size="64">Ni 200°C</text>
<text x="376" y="1184" font-size="64">Ni 250°C</text>
<text x="519" y="503" font-size="64" fill="#FF0000">Monocyclic compounds</text>
<text x="1316" y="497" font-size="64" fill="#FF0000">Polycyclic</text>
<text x="1316" y="576" font-size="64" fill="#FF0000">compounds</text>
<line x1="453" y1="88" x2="1219" y2="88" stroke="#FF0000" stroke-width="4" stroke-dasharray="17.3 12.2"/>
<line x1="455" y1="86" x2="455" y2="1267" stroke="#FF0000" stroke-width="4" stroke-dasharray="17.3 12.12"/>
<line x1="1217" y1="90" x2="1217" y2="1265" stroke="#FF0000" stroke-width="4" stroke-dasharray="17.3 12.12"/>
<line x1="459" y1="1265" x2="1219" y2="1265" stroke="#FF0000" stroke-width="4" stroke-dasharray="17.3 12.2"/>
<line x1="1217" y1="86" x2="1841" y2="86" stroke="#FF0000" stroke-width="4" stroke-dasharray="17.3 12.2"/>
<line x1="1839" y1="84" x2="1839" y2="1265" stroke="#FF0000" stroke-width="4" stroke-dasharray="17.3 12.12"/>
<line x1="1219" y1="84" x2="1219" y2="1265" stroke="#FF0000" stroke-width="4" stroke-dasharray="17.3 12.12"/>
<line x1="1841" y1="1263" x2="1217" y2="1263" stroke="#FF0000" stroke-width="4" stroke-dasharray="17.3 12.2"/>
</svg>
</body></html>
